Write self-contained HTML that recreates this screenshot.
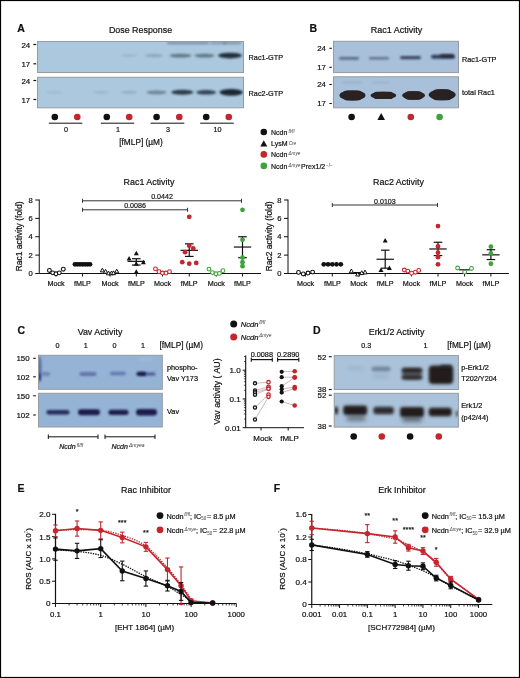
<!DOCTYPE html><html><head><meta charset="utf-8"><title>Figure</title><style>html,body{margin:0;padding:0;background:#fff;}body{width:520px;height:678px;overflow:hidden;font-family:"Liberation Sans", sans-serif;}svg{display:block;will-change:transform;} text{stroke:#111;stroke-width:0.2px;} tspan[font-size]{stroke-width:0;fill:#3a3a3a;}</style></head><body><svg width="520" height="678" viewBox="0 0 520 678" font-family='"Liberation Sans", sans-serif'>
<defs><filter id="b05" x="-50%" y="-100%" width="200%" height="300%"><feGaussianBlur stdDeviation="0.7"/></filter><filter id="b1" x="-50%" y="-100%" width="200%" height="300%"><feGaussianBlur stdDeviation="1.2"/></filter><filter id="b15" x="-50%" y="-100%" width="200%" height="300%"><feGaussianBlur stdDeviation="1.4"/></filter><filter id="b2" x="-50%" y="-100%" width="200%" height="300%"><feGaussianBlur stdDeviation="2"/></filter><filter id="b3" x="-50%" y="-100%" width="200%" height="300%"><feGaussianBlur stdDeviation="3"/></filter></defs>
<rect x="0" y="0" width="520" height="678" fill="#fff"/>
<text x="17.20" y="32.16" font-size="10.5" text-anchor="start" font-weight="bold" font-style="normal" fill="#111" >A</text>
<text x="140.50" y="32.69" font-size="8.9" text-anchor="middle" font-weight="normal" font-style="normal" fill="#111" >Dose Response</text>
<rect x="37.5" y="41.5" width="206.0" height="31.0" fill="#abc8de" stroke="#959b9f" stroke-width="1"/>
<rect x="37.5" y="77.3" width="206.0" height="30.5" fill="#abc8de" stroke="#959b9f" stroke-width="1"/>
<text x="30.20" y="47.63" font-size="7.9" text-anchor="end" font-weight="normal" font-style="normal" fill="#111" >24</text>
<line x1="33.40" y1="44.50" x2="36.20" y2="44.50" stroke="#111" stroke-width="1.2" />
<text x="30.20" y="66.93" font-size="7.9" text-anchor="end" font-weight="normal" font-style="normal" fill="#111" >17</text>
<line x1="33.40" y1="63.80" x2="36.20" y2="63.80" stroke="#111" stroke-width="1.2" />
<text x="30.20" y="83.63" font-size="7.9" text-anchor="end" font-weight="normal" font-style="normal" fill="#111" >24</text>
<line x1="33.40" y1="80.50" x2="36.20" y2="80.50" stroke="#111" stroke-width="1.2" />
<text x="30.20" y="102.63" font-size="7.9" text-anchor="end" font-weight="normal" font-style="normal" fill="#111" >17</text>
<line x1="33.40" y1="99.50" x2="36.20" y2="99.50" stroke="#111" stroke-width="1.2" />
<rect x="167.00" y="41.70" width="42.00" height="2.60" rx="1.30" ry="1.30" fill="#2a3a55" opacity="0.38" filter="url(#b1)" clip-path="url(#blotclip)"/>
<rect x="210.00" y="41.80" width="16.00" height="2.40" rx="1.20" ry="1.20" fill="#2a3a55" opacity="0.3" filter="url(#b1)" clip-path="url(#blotclip)"/>
<rect x="223.00" y="41.70" width="18.00" height="2.60" rx="1.30" ry="1.30" fill="#2a3a55" opacity="0.35" filter="url(#b1)" clip-path="url(#blotclip)"/>
<ellipse cx="129.00" cy="55.60" rx="8.00" ry="1.40" fill="#1b2530" opacity="0.1" filter="url(#b1)" clip-path="url(#blotclip)"/>
<ellipse cx="154.00" cy="55.60" rx="9.00" ry="1.50" fill="#1b2530" opacity="0.22" filter="url(#b1)" clip-path="url(#blotclip)"/>
<ellipse cx="180.50" cy="55.60" rx="11.00" ry="1.90" fill="#1b2530" opacity="0.5" filter="url(#b1)" clip-path="url(#blotclip)"/>
<ellipse cx="204.50" cy="55.60" rx="10.00" ry="1.90" fill="#1b2530" opacity="0.5" filter="url(#b1)" clip-path="url(#blotclip)"/>
<ellipse cx="230.00" cy="55.60" rx="12.00" ry="2.80" fill="#1b2530" opacity="0.95" filter="url(#b1)" clip-path="url(#blotclip)"/>
<ellipse cx="54.00" cy="92.30" rx="8.00" ry="1.40" fill="#1b2530" opacity="0.07" filter="url(#b1)" clip-path="url(#blotclip)"/>
<ellipse cx="101.00" cy="92.30" rx="8.00" ry="1.40" fill="#1b2530" opacity="0.1" filter="url(#b1)" clip-path="url(#blotclip)"/>
<ellipse cx="129.00" cy="92.30" rx="8.00" ry="1.50" fill="#1b2530" opacity="0.16" filter="url(#b1)" clip-path="url(#blotclip)"/>
<ellipse cx="156.50" cy="92.30" rx="10.00" ry="1.90" fill="#1b2530" opacity="0.42" filter="url(#b1)" clip-path="url(#blotclip)"/>
<ellipse cx="182.30" cy="92.30" rx="11.00" ry="2.50" fill="#1b2530" opacity="0.88" filter="url(#b1)" clip-path="url(#blotclip)"/>
<ellipse cx="206.20" cy="92.30" rx="10.00" ry="2.30" fill="#1b2530" opacity="0.82" filter="url(#b1)" clip-path="url(#blotclip)"/>
<ellipse cx="231.20" cy="92.30" rx="11.75" ry="3.40" fill="#1b2530" opacity="1" filter="url(#b1)" clip-path="url(#blotclip)"/>
<text x="248.60" y="60.31" font-size="7.3" text-anchor="start" font-weight="normal" font-style="normal" fill="#111" >Rac1-GTP</text>
<text x="248.60" y="95.61" font-size="7.3" text-anchor="start" font-weight="normal" font-style="normal" fill="#111" >Rac2-GTP</text>
<circle cx="54.80" cy="117.00" r="3.3" fill="#111" stroke="none" stroke-width="0"/>
<circle cx="77.30" cy="117.00" r="3.3" fill="#c4262e" stroke="none" stroke-width="0"/>
<line x1="48.80" y1="123.20" x2="82.30" y2="123.20" stroke="#111" stroke-width="1" />
<text x="66.05" y="131.88" font-size="7.2" text-anchor="middle" font-weight="normal" font-style="normal" fill="#111" >0</text>
<circle cx="106.80" cy="117.00" r="3.3" fill="#111" stroke="none" stroke-width="0"/>
<circle cx="129.20" cy="117.00" r="3.3" fill="#c4262e" stroke="none" stroke-width="0"/>
<line x1="100.80" y1="123.20" x2="134.20" y2="123.20" stroke="#111" stroke-width="1" />
<text x="118.00" y="131.88" font-size="7.2" text-anchor="middle" font-weight="normal" font-style="normal" fill="#111" >1</text>
<circle cx="156.60" cy="117.00" r="3.3" fill="#111" stroke="none" stroke-width="0"/>
<circle cx="179.30" cy="117.00" r="3.3" fill="#c4262e" stroke="none" stroke-width="0"/>
<line x1="150.60" y1="123.20" x2="184.30" y2="123.20" stroke="#111" stroke-width="1" />
<text x="167.95" y="131.88" font-size="7.2" text-anchor="middle" font-weight="normal" font-style="normal" fill="#111" >3</text>
<circle cx="206.20" cy="117.00" r="3.3" fill="#111" stroke="none" stroke-width="0"/>
<circle cx="228.80" cy="117.00" r="3.3" fill="#c4262e" stroke="none" stroke-width="0"/>
<line x1="200.20" y1="123.20" x2="233.80" y2="123.20" stroke="#111" stroke-width="1" />
<text x="217.50" y="131.88" font-size="7.2" text-anchor="middle" font-weight="normal" font-style="normal" fill="#111" >10</text>
<text x="141.00" y="145.17" font-size="8.3" text-anchor="middle" font-weight="normal" font-style="normal" fill="#111" >[fMLP] (&#181;M)</text>
<text x="309.50" y="32.16" font-size="10.5" text-anchor="start" font-weight="bold" font-style="normal" fill="#111" >B</text>
<text x="396.60" y="33.12" font-size="9.0" text-anchor="middle" font-weight="normal" font-style="normal" fill="#111" >Rac1 Activity</text>
<rect x="333.5" y="41.3" width="125.0" height="31.299999999999997" fill="#a8c0da" stroke="#959b9f" stroke-width="1"/>
<rect x="333.5" y="76.8" width="125.0" height="31.0" fill="#a8c0da" stroke="#959b9f" stroke-width="1"/>
<text x="326.00" y="51.13" font-size="7.9" text-anchor="end" font-weight="normal" font-style="normal" fill="#111" >24</text>
<line x1="329.40" y1="48.30" x2="331.80" y2="48.30" stroke="#111" stroke-width="1.1" />
<text x="326.00" y="70.13" font-size="7.9" text-anchor="end" font-weight="normal" font-style="normal" fill="#111" >17</text>
<line x1="329.40" y1="67.30" x2="331.80" y2="67.30" stroke="#111" stroke-width="1.1" />
<text x="326.00" y="87.33" font-size="7.9" text-anchor="end" font-weight="normal" font-style="normal" fill="#111" >24</text>
<line x1="329.40" y1="84.50" x2="331.80" y2="84.50" stroke="#111" stroke-width="1.1" />
<text x="326.00" y="106.33" font-size="7.9" text-anchor="end" font-weight="normal" font-style="normal" fill="#111" >17</text>
<line x1="329.40" y1="103.50" x2="331.80" y2="103.50" stroke="#111" stroke-width="1.1" />
<rect x="339.00" y="56.90" width="20.00" height="2.80" rx="1.40" ry="1.40" fill="#2a3350" opacity="0.6" filter="url(#b1)" clip-path="url(#blotclip)"/>
<rect x="369.00" y="56.90" width="20.00" height="2.60" rx="1.30" ry="1.30" fill="#2a3350" opacity="0.55" filter="url(#b1)" clip-path="url(#blotclip)"/>
<rect x="400.00" y="55.90" width="21.00" height="3.40" rx="1.70" ry="1.70" fill="#2a3350" opacity="0.85" filter="url(#b1)" clip-path="url(#blotclip)"/>
<rect x="431.00" y="54.80" width="24.00" height="4.00" rx="2.00" ry="2.00" fill="#2a3350" opacity="0.9" filter="url(#b1)" clip-path="url(#blotclip)"/>
<rect x="440.00" y="54.05" width="14.00" height="3.50" rx="1.75" ry="1.75" fill="#1e1f2e" opacity="0.7" filter="url(#b1)" clip-path="url(#blotclip)"/>
<rect x="342.10" y="90.40" width="20.80" height="10.00" rx="5.00" ry="5.00" fill="#2a2420" opacity="1" filter="url(#b05)" clip-path="url(#blotclip)"/>
<ellipse cx="352.50" cy="95.40" rx="13.00" ry="5.00" fill="#2a2420" opacity="1" filter="url(#b05)" clip-path="url(#blotclip)"/>
<rect x="373.20" y="91.80" width="20.40" height="7.20" rx="3.60" ry="3.60" fill="#2a2420" opacity="1" filter="url(#b05)" clip-path="url(#blotclip)"/>
<ellipse cx="383.40" cy="95.40" rx="12.75" ry="3.60" fill="#2a2420" opacity="1" filter="url(#b05)" clip-path="url(#blotclip)"/>
<rect x="404.40" y="91.30" width="18.40" height="8.40" rx="4.20" ry="4.20" fill="#2a2420" opacity="1" filter="url(#b05)" clip-path="url(#blotclip)"/>
<ellipse cx="413.60" cy="95.50" rx="11.50" ry="4.20" fill="#2a2420" opacity="1" filter="url(#b05)" clip-path="url(#blotclip)"/>
<rect x="431.40" y="89.30" width="21.60" height="11.00" rx="5.50" ry="5.50" fill="#2a2420" opacity="1" filter="url(#b05)" clip-path="url(#blotclip)"/>
<ellipse cx="442.20" cy="94.80" rx="13.50" ry="5.50" fill="#2a2420" opacity="1" filter="url(#b05)" clip-path="url(#blotclip)"/>
<rect x="342.00" y="81.50" width="20.00" height="2.00" rx="1.00" ry="1.00" fill="#445" opacity="0.12" filter="url(#b1)" clip-path="url(#blotclip)"/>
<rect x="372.00" y="81.50" width="18.00" height="2.00" rx="1.00" ry="1.00" fill="#445" opacity="0.1" filter="url(#b1)" clip-path="url(#blotclip)"/>
<text x="462.00" y="61.61" font-size="7.3" text-anchor="start" font-weight="normal" font-style="normal" fill="#111" >Rac1-GTP</text>
<text x="462.00" y="95.41" font-size="7.3" text-anchor="start" font-weight="normal" font-style="normal" fill="#111" >total Rac1</text>
<circle cx="351.60" cy="117.00" r="3.3" fill="#111" stroke="none" stroke-width="0"/>
<polygon points="381.20,113.10 377.40,119.94 385.00,119.94" fill="#111" stroke="none" stroke-width="0"/>
<circle cx="410.80" cy="117.00" r="3.3" fill="#c4262e" stroke="none" stroke-width="0"/>
<circle cx="439.60" cy="117.00" r="3.3" fill="#3fa33a" stroke="none" stroke-width="0"/>
<circle cx="263.80" cy="132.00" r="3.3" fill="#111" stroke="none" stroke-width="0"/>
<text x="271.00" y="134.71" font-size="7.0" text-anchor="start" font-weight="normal" font-style="normal" fill="#111" ><tspan>Ncdn</tspan><tspan font-size="4.6" font-style="italic" dx="1.2" dy="-1.9">fl/fl</tspan></text>
<polygon points="263.80,140.22 260.30,146.52 267.30,146.52" fill="#111" stroke="none" stroke-width="0"/>
<text x="271.00" y="146.41" font-size="7.0" text-anchor="start" font-weight="normal" font-style="normal" fill="#111" ><tspan>LysM</tspan><tspan font-size="4.6" font-style="italic" dx="1.2" dy="-1.9">Cre</tspan></text>
<circle cx="263.80" cy="154.40" r="3.3" fill="#c4262e" stroke="none" stroke-width="0"/>
<text x="271.00" y="157.11" font-size="7.0" text-anchor="start" font-weight="normal" font-style="normal" fill="#111" ><tspan>Ncdn</tspan><tspan font-size="4.6" font-style="italic" dx="1.2" dy="-1.9">&#916;mye</tspan></text>
<circle cx="263.80" cy="165.90" r="3.3" fill="#3fa33a" stroke="none" stroke-width="0"/>
<text x="271.00" y="168.61" font-size="7.0" text-anchor="start" font-weight="normal" font-style="normal" fill="#111" ><tspan>Ncdn</tspan><tspan font-size="4.6" font-style="italic" dx="1.2" dy="-1.9">&#916;mye</tspan><tspan dy="1.9" dx="0.8">Prex1/2</tspan><tspan font-size="4.6" dx="0.8" dy="-1.9">&#8722;/&#8722;</tspan></text>
<text x="149.00" y="185.19" font-size="8.9" text-anchor="middle" font-weight="normal" font-style="normal" fill="#111" >Rac1 Activity</text>
<line x1="39.25" y1="199.50" x2="39.25" y2="273.50" stroke="#111" stroke-width="1" />
<line x1="35.25" y1="273.50" x2="39.25" y2="273.50" stroke="#111" stroke-width="1" />
<text x="32.65" y="276.22" font-size="7.6" text-anchor="end" font-weight="normal" font-style="normal" fill="#111" >0</text>
<line x1="35.25" y1="255.12" x2="39.25" y2="255.12" stroke="#111" stroke-width="1" />
<text x="32.65" y="257.85" font-size="7.6" text-anchor="end" font-weight="normal" font-style="normal" fill="#111" >2</text>
<line x1="35.25" y1="236.75" x2="39.25" y2="236.75" stroke="#111" stroke-width="1" />
<text x="32.65" y="239.47" font-size="7.6" text-anchor="end" font-weight="normal" font-style="normal" fill="#111" >4</text>
<line x1="35.25" y1="218.38" x2="39.25" y2="218.38" stroke="#111" stroke-width="1" />
<text x="32.65" y="221.10" font-size="7.6" text-anchor="end" font-weight="normal" font-style="normal" fill="#111" >6</text>
<line x1="35.25" y1="200.00" x2="39.25" y2="200.00" stroke="#111" stroke-width="1" />
<text x="32.65" y="202.72" font-size="7.6" text-anchor="end" font-weight="normal" font-style="normal" fill="#111" >8</text>
<line x1="39.25" y1="273.50" x2="261.00" y2="273.50" stroke="#111" stroke-width="1" />
<line x1="56.00" y1="273.50" x2="56.00" y2="276.50" stroke="#111" stroke-width="1" />
<text x="56.00" y="285.88" font-size="7.2" text-anchor="middle" font-weight="normal" font-style="normal" fill="#111" >Mock</text>
<line x1="82.50" y1="273.50" x2="82.50" y2="276.50" stroke="#111" stroke-width="1" />
<text x="82.50" y="285.88" font-size="7.2" text-anchor="middle" font-weight="normal" font-style="normal" fill="#111" >fMLP</text>
<line x1="110.00" y1="273.50" x2="110.00" y2="276.50" stroke="#111" stroke-width="1" />
<text x="110.00" y="285.88" font-size="7.2" text-anchor="middle" font-weight="normal" font-style="normal" fill="#111" >Mock</text>
<line x1="136.30" y1="273.50" x2="136.30" y2="276.50" stroke="#111" stroke-width="1" />
<text x="136.30" y="285.88" font-size="7.2" text-anchor="middle" font-weight="normal" font-style="normal" fill="#111" >fMLP</text>
<line x1="162.50" y1="273.50" x2="162.50" y2="276.50" stroke="#111" stroke-width="1" />
<text x="162.50" y="285.88" font-size="7.2" text-anchor="middle" font-weight="normal" font-style="normal" fill="#111" >Mock</text>
<line x1="189.25" y1="273.50" x2="189.25" y2="276.50" stroke="#111" stroke-width="1" />
<text x="189.25" y="285.88" font-size="7.2" text-anchor="middle" font-weight="normal" font-style="normal" fill="#111" >fMLP</text>
<line x1="216.25" y1="273.50" x2="216.25" y2="276.50" stroke="#111" stroke-width="1" />
<text x="216.25" y="285.88" font-size="7.2" text-anchor="middle" font-weight="normal" font-style="normal" fill="#111" >Mock</text>
<line x1="242.50" y1="273.50" x2="242.50" y2="276.50" stroke="#111" stroke-width="1" />
<text x="242.50" y="285.88" font-size="7.2" text-anchor="middle" font-weight="normal" font-style="normal" fill="#111" >fMLP</text>
<text transform="translate(18.7,236.4) rotate(-90)" font-size="8.5" text-anchor="middle" y="3.04" fill="#111">Rac1 activity (fold)</text>
<line x1="82.50" y1="200.80" x2="241.50" y2="200.80" stroke="#333" stroke-width="1" />
<line x1="82.50" y1="198.80" x2="82.50" y2="202.80" stroke="#333" stroke-width="1" />
<line x1="241.50" y1="198.80" x2="241.50" y2="202.80" stroke="#333" stroke-width="1" />
<text x="162.00" y="199.34" font-size="7.1" text-anchor="middle" font-weight="normal" font-style="normal" fill="#222" >0.0442</text>
<line x1="82.50" y1="209.80" x2="187.50" y2="209.80" stroke="#333" stroke-width="1" />
<line x1="82.50" y1="207.80" x2="82.50" y2="211.80" stroke="#333" stroke-width="1" />
<line x1="187.50" y1="207.80" x2="187.50" y2="211.80" stroke="#333" stroke-width="1" />
<text x="135.00" y="208.34" font-size="7.1" text-anchor="middle" font-weight="normal" font-style="normal" fill="#222" >0.0086</text>
<circle cx="49.40" cy="270.47" r="1.9" fill="#fff" stroke="#111" stroke-width="1.1"/>
<circle cx="52.70" cy="272.86" r="1.9" fill="#fff" stroke="#111" stroke-width="1.1"/>
<circle cx="56.00" cy="273.78" r="1.9" fill="#fff" stroke="#111" stroke-width="1.1"/>
<circle cx="59.30" cy="272.86" r="1.9" fill="#fff" stroke="#111" stroke-width="1.1"/>
<circle cx="63.30" cy="269.18" r="1.9" fill="#fff" stroke="#111" stroke-width="1.1"/>
<circle cx="75.00" cy="264.31" r="2.4" fill="#111" stroke="none" stroke-width="0"/>
<circle cx="77.50" cy="264.31" r="2.4" fill="#111" stroke="none" stroke-width="0"/>
<circle cx="80.00" cy="264.31" r="2.4" fill="#111" stroke="none" stroke-width="0"/>
<circle cx="82.50" cy="264.31" r="2.4" fill="#111" stroke="none" stroke-width="0"/>
<circle cx="85.00" cy="264.31" r="2.4" fill="#111" stroke="none" stroke-width="0"/>
<circle cx="87.50" cy="264.31" r="2.4" fill="#111" stroke="none" stroke-width="0"/>
<circle cx="90.00" cy="264.31" r="2.4" fill="#111" stroke="none" stroke-width="0"/>
<polygon points="102.40,268.11 100.30,271.89 104.50,271.89" fill="#fff" stroke="#111" stroke-width="1"/>
<polygon points="105.60,269.39 103.50,273.17 107.70,273.17" fill="#fff" stroke="#111" stroke-width="1"/>
<polygon points="108.50,271.05 106.40,274.83 110.60,274.83" fill="#fff" stroke="#111" stroke-width="1"/>
<polygon points="111.50,271.05 109.40,274.83 113.60,274.83" fill="#fff" stroke="#111" stroke-width="1"/>
<polygon points="113.50,270.86 111.40,274.64 115.60,274.64" fill="#fff" stroke="#111" stroke-width="1"/>
<polygon points="116.70,269.12 114.60,272.90 118.80,272.90" fill="#fff" stroke="#111" stroke-width="1"/>
<line x1="127.60" y1="261.37" x2="145.00" y2="261.37" stroke="#111" stroke-width="1.2" />
<line x1="136.30" y1="265.05" x2="136.30" y2="258.71" stroke="#111" stroke-width="1.2" />
<line x1="132.00" y1="265.05" x2="140.60" y2="265.05" stroke="#111" stroke-width="1.2" />
<line x1="132.00" y1="258.71" x2="140.60" y2="258.71" stroke="#111" stroke-width="1.2" />
<polygon points="136.30,250.68 133.80,255.18 138.80,255.18" fill="#111" stroke="none" stroke-width="0"/>
<polygon points="129.10,256.01 126.60,260.51 131.60,260.51" fill="#111" stroke="none" stroke-width="0"/>
<polygon points="143.40,259.68 140.90,264.18 145.90,264.18" fill="#111" stroke="none" stroke-width="0"/>
<polygon points="136.30,261.25 133.80,265.75 138.80,265.75" fill="#111" stroke="none" stroke-width="0"/>
<polygon points="136.30,269.24 133.80,273.74 138.80,273.74" fill="#111" stroke="none" stroke-width="0"/>
<circle cx="155.50" cy="268.91" r="1.9" fill="#fff" stroke="#c4262e" stroke-width="1.1"/>
<circle cx="159.00" cy="271.66" r="1.9" fill="#fff" stroke="#c4262e" stroke-width="1.1"/>
<circle cx="162.50" cy="273.04" r="1.9" fill="#fff" stroke="#c4262e" stroke-width="1.1"/>
<circle cx="166.00" cy="273.04" r="1.9" fill="#fff" stroke="#c4262e" stroke-width="1.1"/>
<circle cx="169.50" cy="271.66" r="1.9" fill="#fff" stroke="#c4262e" stroke-width="1.1"/>
<line x1="180.55" y1="250.35" x2="197.95" y2="250.35" stroke="#111" stroke-width="1.2" />
<line x1="189.25" y1="256.41" x2="189.25" y2="243.82" stroke="#111" stroke-width="1.2" />
<line x1="184.95" y1="256.41" x2="193.55" y2="256.41" stroke="#111" stroke-width="1.2" />
<line x1="184.95" y1="243.82" x2="193.55" y2="243.82" stroke="#111" stroke-width="1.2" />
<circle cx="189.25" cy="216.81" r="2.4" fill="#c4262e" stroke="none" stroke-width="0"/>
<circle cx="189.25" cy="245.66" r="2.4" fill="#c4262e" stroke="none" stroke-width="0"/>
<circle cx="193.25" cy="248.42" r="2.4" fill="#c4262e" stroke="none" stroke-width="0"/>
<circle cx="185.05" cy="252.19" r="2.4" fill="#c4262e" stroke="none" stroke-width="0"/>
<circle cx="182.25" cy="262.20" r="2.4" fill="#c4262e" stroke="none" stroke-width="0"/>
<circle cx="189.25" cy="263.67" r="2.4" fill="#c4262e" stroke="none" stroke-width="0"/>
<circle cx="196.25" cy="262.93" r="2.4" fill="#c4262e" stroke="none" stroke-width="0"/>
<circle cx="208.95" cy="269.09" r="1.9" fill="#fff" stroke="#3fa33a" stroke-width="1.1"/>
<circle cx="212.45" cy="272.58" r="1.9" fill="#fff" stroke="#3fa33a" stroke-width="1.1"/>
<circle cx="215.95" cy="273.78" r="1.9" fill="#fff" stroke="#3fa33a" stroke-width="1.1"/>
<circle cx="219.45" cy="273.41" r="1.9" fill="#fff" stroke="#3fa33a" stroke-width="1.1"/>
<circle cx="222.95" cy="270.65" r="1.9" fill="#fff" stroke="#3fa33a" stroke-width="1.1"/>
<line x1="233.80" y1="247.04" x2="251.20" y2="247.04" stroke="#111" stroke-width="1.2" />
<line x1="242.50" y1="257.70" x2="242.50" y2="236.75" stroke="#111" stroke-width="1.2" />
<line x1="238.20" y1="257.70" x2="246.80" y2="257.70" stroke="#111" stroke-width="1.2" />
<line x1="238.20" y1="236.75" x2="246.80" y2="236.75" stroke="#111" stroke-width="1.2" />
<circle cx="242.50" cy="209.83" r="2.4" fill="#3fa33a" stroke="none" stroke-width="0"/>
<circle cx="242.50" cy="239.87" r="2.4" fill="#3fa33a" stroke="none" stroke-width="0"/>
<circle cx="242.50" cy="257.70" r="2.4" fill="#3fa33a" stroke="none" stroke-width="0"/>
<circle cx="242.50" cy="262.20" r="2.4" fill="#3fa33a" stroke="none" stroke-width="0"/>
<circle cx="242.50" cy="266.15" r="2.4" fill="#3fa33a" stroke="none" stroke-width="0"/>
<text x="398.50" y="185.19" font-size="8.9" text-anchor="middle" font-weight="normal" font-style="normal" fill="#111" >Rac2 Activity</text>
<line x1="288.00" y1="199.50" x2="288.00" y2="273.50" stroke="#111" stroke-width="1" />
<line x1="284.00" y1="273.50" x2="288.00" y2="273.50" stroke="#111" stroke-width="1" />
<text x="281.40" y="276.22" font-size="7.6" text-anchor="end" font-weight="normal" font-style="normal" fill="#111" >0</text>
<line x1="284.00" y1="255.12" x2="288.00" y2="255.12" stroke="#111" stroke-width="1" />
<text x="281.40" y="257.85" font-size="7.6" text-anchor="end" font-weight="normal" font-style="normal" fill="#111" >2</text>
<line x1="284.00" y1="236.75" x2="288.00" y2="236.75" stroke="#111" stroke-width="1" />
<text x="281.40" y="239.47" font-size="7.6" text-anchor="end" font-weight="normal" font-style="normal" fill="#111" >4</text>
<line x1="284.00" y1="218.38" x2="288.00" y2="218.38" stroke="#111" stroke-width="1" />
<text x="281.40" y="221.10" font-size="7.6" text-anchor="end" font-weight="normal" font-style="normal" fill="#111" >6</text>
<line x1="284.00" y1="200.00" x2="288.00" y2="200.00" stroke="#111" stroke-width="1" />
<text x="281.40" y="202.72" font-size="7.6" text-anchor="end" font-weight="normal" font-style="normal" fill="#111" >8</text>
<line x1="288.00" y1="273.50" x2="508.90" y2="273.50" stroke="#111" stroke-width="1" />
<line x1="305.50" y1="273.50" x2="305.50" y2="276.50" stroke="#111" stroke-width="1" />
<text x="305.50" y="285.88" font-size="7.2" text-anchor="middle" font-weight="normal" font-style="normal" fill="#111" >Mock</text>
<line x1="332.30" y1="273.50" x2="332.30" y2="276.50" stroke="#111" stroke-width="1" />
<text x="332.30" y="285.88" font-size="7.2" text-anchor="middle" font-weight="normal" font-style="normal" fill="#111" >fMLP</text>
<line x1="358.75" y1="273.50" x2="358.75" y2="276.50" stroke="#111" stroke-width="1" />
<text x="358.75" y="285.88" font-size="7.2" text-anchor="middle" font-weight="normal" font-style="normal" fill="#111" >Mock</text>
<line x1="385.20" y1="273.50" x2="385.20" y2="276.50" stroke="#111" stroke-width="1" />
<text x="385.20" y="285.88" font-size="7.2" text-anchor="middle" font-weight="normal" font-style="normal" fill="#111" >fMLP</text>
<line x1="411.40" y1="273.50" x2="411.40" y2="276.50" stroke="#111" stroke-width="1" />
<text x="411.40" y="285.88" font-size="7.2" text-anchor="middle" font-weight="normal" font-style="normal" fill="#111" >Mock</text>
<line x1="438.00" y1="273.50" x2="438.00" y2="276.50" stroke="#111" stroke-width="1" />
<text x="438.00" y="285.88" font-size="7.2" text-anchor="middle" font-weight="normal" font-style="normal" fill="#111" >fMLP</text>
<line x1="464.60" y1="273.50" x2="464.60" y2="276.50" stroke="#111" stroke-width="1" />
<text x="464.60" y="285.88" font-size="7.2" text-anchor="middle" font-weight="normal" font-style="normal" fill="#111" >Mock</text>
<line x1="490.90" y1="273.50" x2="490.90" y2="276.50" stroke="#111" stroke-width="1" />
<text x="490.90" y="285.88" font-size="7.2" text-anchor="middle" font-weight="normal" font-style="normal" fill="#111" >fMLP</text>
<text transform="translate(268.8,236.4) rotate(-90)" font-size="8.5" text-anchor="middle" y="3.04" fill="#111">Rac2 activity (fold)</text>
<line x1="332.30" y1="205.00" x2="437.50" y2="205.00" stroke="#333" stroke-width="1" />
<line x1="332.30" y1="203.00" x2="332.30" y2="207.00" stroke="#333" stroke-width="1" />
<line x1="437.50" y1="203.00" x2="437.50" y2="207.00" stroke="#333" stroke-width="1" />
<text x="384.90" y="203.54" font-size="7.1" text-anchor="middle" font-weight="normal" font-style="normal" fill="#222" >0.0103</text>
<circle cx="298.50" cy="272.40" r="1.9" fill="#fff" stroke="#111" stroke-width="1.1"/>
<circle cx="303.30" cy="273.96" r="1.9" fill="#fff" stroke="#111" stroke-width="1.1"/>
<circle cx="308.00" cy="273.04" r="1.9" fill="#fff" stroke="#111" stroke-width="1.1"/>
<circle cx="312.60" cy="272.12" r="1.9" fill="#fff" stroke="#111" stroke-width="1.1"/>
<circle cx="323.80" cy="264.31" r="2.4" fill="#111" stroke="none" stroke-width="0"/>
<circle cx="328.05" cy="264.31" r="2.4" fill="#111" stroke="none" stroke-width="0"/>
<circle cx="332.30" cy="264.31" r="2.4" fill="#111" stroke="none" stroke-width="0"/>
<circle cx="336.55" cy="264.31" r="2.4" fill="#111" stroke="none" stroke-width="0"/>
<circle cx="340.80" cy="264.31" r="2.4" fill="#111" stroke="none" stroke-width="0"/>
<line x1="353.25" y1="272.58" x2="364.25" y2="272.58" stroke="#111" stroke-width="1.2" />
<polygon points="351.35,269.03 349.25,272.81 353.45,272.81" fill="#fff" stroke="#111" stroke-width="1"/>
<polygon points="357.75,272.15 355.65,275.93 359.85,275.93" fill="#fff" stroke="#111" stroke-width="1"/>
<polygon points="365.05,270.13 362.95,273.91 367.15,273.91" fill="#fff" stroke="#111" stroke-width="1"/>
<polygon points="361.75,270.77 359.65,274.55 363.85,274.55" fill="#fff" stroke="#111" stroke-width="1"/>
<line x1="376.50" y1="259.26" x2="393.90" y2="259.26" stroke="#111" stroke-width="1.2" />
<line x1="385.20" y1="268.17" x2="385.20" y2="250.16" stroke="#111" stroke-width="1.2" />
<line x1="380.90" y1="268.17" x2="389.50" y2="268.17" stroke="#111" stroke-width="1.2" />
<line x1="380.90" y1="250.16" x2="389.50" y2="250.16" stroke="#111" stroke-width="1.2" />
<polygon points="385.20,237.91 382.70,242.41 387.70,242.41" fill="#111" stroke="none" stroke-width="0"/>
<polygon points="381.00,267.58 378.50,272.08 383.50,272.08" fill="#111" stroke="none" stroke-width="0"/>
<polygon points="389.40,265.47 386.90,269.97 391.90,269.97" fill="#111" stroke="none" stroke-width="0"/>
<circle cx="404.30" cy="270.01" r="1.9" fill="#fff" stroke="#c4262e" stroke-width="1.1"/>
<circle cx="407.80" cy="271.11" r="1.9" fill="#fff" stroke="#c4262e" stroke-width="1.1"/>
<circle cx="411.60" cy="273.13" r="1.9" fill="#fff" stroke="#c4262e" stroke-width="1.1"/>
<circle cx="415.40" cy="272.21" r="1.9" fill="#fff" stroke="#c4262e" stroke-width="1.1"/>
<circle cx="418.70" cy="270.38" r="1.9" fill="#fff" stroke="#c4262e" stroke-width="1.1"/>
<line x1="429.30" y1="248.97" x2="446.70" y2="248.97" stroke="#111" stroke-width="1.2" />
<line x1="438.00" y1="255.58" x2="438.00" y2="242.26" stroke="#111" stroke-width="1.2" />
<line x1="433.70" y1="255.58" x2="442.30" y2="255.58" stroke="#111" stroke-width="1.2" />
<line x1="433.70" y1="242.26" x2="442.30" y2="242.26" stroke="#111" stroke-width="1.2" />
<circle cx="438.00" cy="226.09" r="2.4" fill="#c4262e" stroke="none" stroke-width="0"/>
<circle cx="438.00" cy="246.40" r="2.4" fill="#c4262e" stroke="none" stroke-width="0"/>
<circle cx="438.00" cy="252.64" r="2.4" fill="#c4262e" stroke="none" stroke-width="0"/>
<circle cx="438.00" cy="257.15" r="2.4" fill="#c4262e" stroke="none" stroke-width="0"/>
<circle cx="438.00" cy="264.31" r="2.4" fill="#c4262e" stroke="none" stroke-width="0"/>
<line x1="459.10" y1="269.82" x2="470.10" y2="269.82" stroke="#111" stroke-width="1.2" />
<circle cx="457.60" cy="267.99" r="1.9" fill="#fff" stroke="#3fa33a" stroke-width="1.1"/>
<circle cx="464.70" cy="272.12" r="1.9" fill="#fff" stroke="#3fa33a" stroke-width="1.1"/>
<circle cx="471.50" cy="268.45" r="1.9" fill="#fff" stroke="#3fa33a" stroke-width="1.1"/>
<line x1="482.20" y1="254.85" x2="499.60" y2="254.85" stroke="#111" stroke-width="1.2" />
<line x1="490.90" y1="259.54" x2="490.90" y2="249.70" stroke="#111" stroke-width="1.2" />
<line x1="486.60" y1="259.54" x2="495.20" y2="259.54" stroke="#111" stroke-width="1.2" />
<line x1="486.60" y1="249.70" x2="495.20" y2="249.70" stroke="#111" stroke-width="1.2" />
<circle cx="490.90" cy="246.67" r="2.4" fill="#3fa33a" stroke="none" stroke-width="0"/>
<circle cx="490.90" cy="253.38" r="2.4" fill="#3fa33a" stroke="none" stroke-width="0"/>
<circle cx="490.90" cy="263.76" r="2.4" fill="#3fa33a" stroke="none" stroke-width="0"/>
<text x="17.50" y="333.76" font-size="10.5" text-anchor="start" font-weight="bold" font-style="normal" fill="#111" >C</text>
<text x="100.00" y="334.69" font-size="8.9" text-anchor="middle" font-weight="normal" font-style="normal" fill="#111" >Vav Activity</text>
<text x="57.50" y="348.08" font-size="7.2" text-anchor="middle" font-weight="normal" font-style="normal" fill="#111" >0</text>
<text x="85.80" y="348.08" font-size="7.2" text-anchor="middle" font-weight="normal" font-style="normal" fill="#111" >1</text>
<text x="114.50" y="348.08" font-size="7.2" text-anchor="middle" font-weight="normal" font-style="normal" fill="#111" >0</text>
<text x="143.00" y="348.08" font-size="7.2" text-anchor="middle" font-weight="normal" font-style="normal" fill="#111" >1</text>
<text x="159.50" y="348.47" font-size="8.3" text-anchor="start" font-weight="normal" font-style="normal" fill="#111" >[fMLP] (&#181;M)</text>
<rect x="38.5" y="355.3" width="123.80000000000001" height="34.0" fill="#95b3d4" stroke="#959b9f" stroke-width="1"/>
<rect x="38.5" y="393.3" width="123.80000000000001" height="33.69999999999999" fill="#95b3d4" stroke="#959b9f" stroke-width="1"/>
<text x="29.60" y="361.13" font-size="7.9" text-anchor="end" font-weight="normal" font-style="normal" fill="#111" >150</text>
<line x1="33.20" y1="358.30" x2="35.80" y2="358.30" stroke="#111" stroke-width="1.1" />
<text x="29.60" y="379.63" font-size="7.9" text-anchor="end" font-weight="normal" font-style="normal" fill="#111" >102</text>
<line x1="33.20" y1="376.80" x2="35.80" y2="376.80" stroke="#111" stroke-width="1.1" />
<text x="29.60" y="398.63" font-size="7.9" text-anchor="end" font-weight="normal" font-style="normal" fill="#111" >150</text>
<line x1="33.20" y1="395.80" x2="35.80" y2="395.80" stroke="#111" stroke-width="1.1" />
<text x="29.60" y="417.83" font-size="7.9" text-anchor="end" font-weight="normal" font-style="normal" fill="#111" >102</text>
<line x1="33.20" y1="415.00" x2="35.80" y2="415.00" stroke="#111" stroke-width="1.1" />
<rect x="37.60" y="356.00" width="4.00" height="26.00" rx="13.00" ry="13.00" fill="#2a3690" opacity="0.55" filter="url(#b1)" clip-path="url(#blotclip)"/>
<rect x="37.90" y="373.00" width="3.00" height="8.00" rx="4.00" ry="4.00" fill="#1c2470" opacity="0.7" filter="url(#b1)" clip-path="url(#blotclip)"/>
<rect x="42.00" y="372.00" width="8.00" height="4.00" rx="2.00" ry="2.00" fill="#1c1f78" opacity="0.3" filter="url(#b1)" clip-path="url(#blotclip)"/>
<rect x="79.50" y="372.10" width="17.00" height="3.80" rx="1.90" ry="1.90" fill="#1c1f78" opacity="0.42" filter="url(#b1)" clip-path="url(#blotclip)"/>
<rect x="110.00" y="371.70" width="16.00" height="3.60" rx="1.80" ry="1.80" fill="#1c1f78" opacity="0.38" filter="url(#b1)" clip-path="url(#blotclip)"/>
<rect x="140.50" y="372.40" width="15.00" height="3.20" rx="1.60" ry="1.60" fill="#1c1f78" opacity="0.6" filter="url(#b1)" clip-path="url(#blotclip)"/>
<rect x="136.45" y="371.70" width="9.50" height="4.40" rx="2.20" ry="2.20" fill="#1c1a4c" opacity="1" filter="url(#b1)" clip-path="url(#blotclip)"/>
<rect x="139.00" y="357.50" width="14.00" height="3.00" rx="1.50" ry="1.50" fill="#fff" opacity="0.12" filter="url(#b1)" clip-path="url(#blotclip)"/>
<rect x="46.50" y="410.00" width="23.00" height="4.60" rx="2.30" ry="2.30" fill="#1c1a4c" opacity="0.9" filter="url(#b1)" clip-path="url(#blotclip)"/>
<rect x="78.00" y="409.30" width="22.00" height="6.00" rx="3.00" ry="3.00" fill="#1c1a4c" opacity="1" filter="url(#b1)" clip-path="url(#blotclip)"/>
<rect x="108.50" y="409.70" width="20.00" height="5.20" rx="2.60" ry="2.60" fill="#1c1a4c" opacity="1" filter="url(#b1)" clip-path="url(#blotclip)"/>
<rect x="136.00" y="409.05" width="21.00" height="6.50" rx="3.25" ry="3.25" fill="#1c1a4c" opacity="1" filter="url(#b1)" clip-path="url(#blotclip)"/>
<text x="167.00" y="370.11" font-size="7.3" text-anchor="start" font-weight="normal" font-style="normal" fill="#111" >phospho-</text>
<text x="167.00" y="380.91" font-size="7.3" text-anchor="start" font-weight="normal" font-style="normal" fill="#111" >Vav Y173</text>
<text x="167.00" y="413.91" font-size="7.3" text-anchor="start" font-weight="normal" font-style="normal" fill="#111" >Vav</text>
<line x1="48.30" y1="436.80" x2="98.00" y2="436.80" stroke="#111" stroke-width="1" />
<line x1="48.30" y1="434.50" x2="48.30" y2="439.00" stroke="#111" stroke-width="1" />
<line x1="98.00" y1="434.50" x2="98.00" y2="439.00" stroke="#111" stroke-width="1" />
<text x="71.15" y="449.01" font-size="7" text-anchor="middle" font-weight="normal" font-style="italic" fill="#111" >Ncdn<tspan font-size="5" dx="1" dy="-2.4">fl/fl</tspan></text>
<line x1="105.00" y1="436.80" x2="155.00" y2="436.80" stroke="#111" stroke-width="1" />
<line x1="105.00" y1="434.50" x2="105.00" y2="439.00" stroke="#111" stroke-width="1" />
<line x1="155.00" y1="434.50" x2="155.00" y2="439.00" stroke="#111" stroke-width="1" />
<text x="128.00" y="449.01" font-size="7" text-anchor="middle" font-weight="normal" font-style="italic" fill="#111" >Ncdn<tspan font-size="5" dx="1" dy="-2.4">&#916;myea</tspan></text>
<circle cx="233.70" cy="324.00" r="3.5" fill="#111" stroke="none" stroke-width="0"/>
<circle cx="233.70" cy="336.90" r="3.5" fill="#c4262e" stroke="none" stroke-width="0"/>
<text x="240.80" y="326.52" font-size="7.6" text-anchor="start" font-weight="normal" font-style="italic" fill="#111" >Ncdn<tspan font-size="4.8" dx="0.6" dy="-2.2">fl/fl</tspan></text>
<text x="240.80" y="339.52" font-size="7.6" text-anchor="start" font-weight="normal" font-style="italic" fill="#111" >Ncdn<tspan font-size="4.8" dx="0.6" dy="-2.2">&#916;mye</tspan></text>
<line x1="245.70" y1="355.60" x2="245.70" y2="427.70" stroke="#111" stroke-width="1.1" />
<line x1="245.70" y1="427.70" x2="304.00" y2="427.70" stroke="#111" stroke-width="1" />
<line x1="242.70" y1="370.20" x2="245.70" y2="370.20" stroke="#111" stroke-width="1" />
<text x="240.70" y="373.10" font-size="8.1" text-anchor="end" font-weight="normal" font-style="normal" fill="#111" >1.0</text>
<line x1="242.70" y1="398.95" x2="245.70" y2="398.95" stroke="#111" stroke-width="1" />
<text x="240.70" y="401.85" font-size="8.1" text-anchor="end" font-weight="normal" font-style="normal" fill="#111" >0.1</text>
<line x1="242.70" y1="427.70" x2="245.70" y2="427.70" stroke="#111" stroke-width="1" />
<text x="240.70" y="430.60" font-size="8.1" text-anchor="end" font-weight="normal" font-style="normal" fill="#111" >0.01</text>
<line x1="243.90" y1="419.05" x2="245.70" y2="419.05" stroke="#111" stroke-width="0.7" />
<line x1="243.90" y1="413.98" x2="245.70" y2="413.98" stroke="#111" stroke-width="0.7" />
<line x1="243.90" y1="410.39" x2="245.70" y2="410.39" stroke="#111" stroke-width="0.7" />
<line x1="243.90" y1="407.60" x2="245.70" y2="407.60" stroke="#111" stroke-width="0.7" />
<line x1="243.90" y1="405.33" x2="245.70" y2="405.33" stroke="#111" stroke-width="0.7" />
<line x1="243.90" y1="403.40" x2="245.70" y2="403.40" stroke="#111" stroke-width="0.7" />
<line x1="243.90" y1="401.74" x2="245.70" y2="401.74" stroke="#111" stroke-width="0.7" />
<line x1="243.90" y1="400.27" x2="245.70" y2="400.27" stroke="#111" stroke-width="0.7" />
<line x1="243.90" y1="390.30" x2="245.70" y2="390.30" stroke="#111" stroke-width="0.7" />
<line x1="243.90" y1="385.23" x2="245.70" y2="385.23" stroke="#111" stroke-width="0.7" />
<line x1="243.90" y1="381.64" x2="245.70" y2="381.64" stroke="#111" stroke-width="0.7" />
<line x1="243.90" y1="378.85" x2="245.70" y2="378.85" stroke="#111" stroke-width="0.7" />
<line x1="243.90" y1="376.58" x2="245.70" y2="376.58" stroke="#111" stroke-width="0.7" />
<line x1="243.90" y1="374.65" x2="245.70" y2="374.65" stroke="#111" stroke-width="0.7" />
<line x1="243.90" y1="372.99" x2="245.70" y2="372.99" stroke="#111" stroke-width="0.7" />
<line x1="243.90" y1="371.52" x2="245.70" y2="371.52" stroke="#111" stroke-width="0.7" />
<line x1="243.90" y1="361.55" x2="245.70" y2="361.55" stroke="#111" stroke-width="0.7" />
<line x1="243.90" y1="356.48" x2="245.70" y2="356.48" stroke="#111" stroke-width="0.7" />
<line x1="261.00" y1="427.70" x2="261.00" y2="430.50" stroke="#111" stroke-width="1" />
<text x="262.80" y="441.16" font-size="8" text-anchor="middle" font-weight="normal" font-style="normal" fill="#111" >Mock</text>
<line x1="288.20" y1="427.70" x2="288.20" y2="430.50" stroke="#111" stroke-width="1" />
<text x="289.50" y="441.16" font-size="8" text-anchor="middle" font-weight="normal" font-style="normal" fill="#111" >fMLP</text>
<text transform="translate(216.6,391.6) rotate(-90)" font-size="8.8" text-anchor="middle" y="3.15" fill="#111">Vav activity ( AU)</text>
<line x1="251.30" y1="359.60" x2="272.30" y2="359.60" stroke="#111" stroke-width="1.2" />
<line x1="251.30" y1="357.60" x2="251.30" y2="361.80" stroke="#111" stroke-width="1.1" />
<line x1="272.30" y1="357.60" x2="272.30" y2="361.80" stroke="#111" stroke-width="1.1" />
<text x="261.80" y="356.51" font-size="7.3" text-anchor="middle" font-weight="normal" font-style="normal" fill="#111" >0.0088</text>
<line x1="277.60" y1="359.60" x2="298.80" y2="359.60" stroke="#111" stroke-width="1.2" />
<line x1="277.60" y1="357.60" x2="277.60" y2="361.80" stroke="#111" stroke-width="1.1" />
<line x1="298.80" y1="357.60" x2="298.80" y2="361.80" stroke="#111" stroke-width="1.1" />
<text x="288.20" y="356.51" font-size="7.3" text-anchor="middle" font-weight="normal" font-style="normal" fill="#111" >0.2890</text>
<line x1="255.00" y1="383.30" x2="268.50" y2="382.20" stroke="#a88a8a" stroke-width="0.6" />
<line x1="255.00" y1="390.50" x2="268.50" y2="386.80" stroke="#a88a8a" stroke-width="0.6" />
<line x1="255.00" y1="392.30" x2="268.50" y2="388.60" stroke="#a88a8a" stroke-width="0.6" />
<line x1="255.00" y1="394.70" x2="268.50" y2="388.80" stroke="#a88a8a" stroke-width="0.6" />
<line x1="255.00" y1="407.50" x2="268.50" y2="394.50" stroke="#a88a8a" stroke-width="0.6" />
<line x1="255.00" y1="419.50" x2="268.50" y2="396.80" stroke="#a88a8a" stroke-width="0.6" />
<line x1="281.70" y1="371.80" x2="294.70" y2="371.20" stroke="#a88a8a" stroke-width="0.6" />
<line x1="281.70" y1="377.20" x2="294.70" y2="377.20" stroke="#a88a8a" stroke-width="0.6" />
<line x1="281.70" y1="386.20" x2="294.70" y2="377.60" stroke="#a88a8a" stroke-width="0.6" />
<line x1="281.70" y1="389.20" x2="294.70" y2="387.00" stroke="#a88a8a" stroke-width="0.6" />
<line x1="281.70" y1="392.60" x2="294.70" y2="388.40" stroke="#a88a8a" stroke-width="0.6" />
<line x1="281.70" y1="401.50" x2="294.70" y2="405.50" stroke="#a88a8a" stroke-width="0.6" />
<circle cx="255.00" cy="383.30" r="1.55" fill="#fff" stroke="#111" stroke-width="1.3"/>
<circle cx="255.00" cy="390.50" r="1.55" fill="#fff" stroke="#111" stroke-width="1.3"/>
<circle cx="255.00" cy="392.30" r="1.55" fill="#fff" stroke="#111" stroke-width="1.3"/>
<circle cx="255.00" cy="394.70" r="1.55" fill="#fff" stroke="#111" stroke-width="1.3"/>
<circle cx="255.00" cy="407.50" r="1.55" fill="#fff" stroke="#111" stroke-width="1.3"/>
<circle cx="255.00" cy="419.50" r="1.55" fill="#fff" stroke="#111" stroke-width="1.3"/>
<circle cx="268.50" cy="382.20" r="1.7" fill="#fff" stroke="#c4262e" stroke-width="1.3"/>
<circle cx="268.50" cy="386.80" r="1.7" fill="#fff" stroke="#c4262e" stroke-width="1.3"/>
<circle cx="268.50" cy="388.60" r="1.7" fill="#fff" stroke="#c4262e" stroke-width="1.3"/>
<circle cx="268.50" cy="388.80" r="1.7" fill="#fff" stroke="#c4262e" stroke-width="1.3"/>
<circle cx="268.50" cy="394.50" r="1.7" fill="#fff" stroke="#c4262e" stroke-width="1.3"/>
<circle cx="268.50" cy="396.80" r="1.7" fill="#fff" stroke="#c4262e" stroke-width="1.3"/>
<circle cx="281.70" cy="371.80" r="2.1" fill="#111" stroke="none" stroke-width="0"/>
<circle cx="294.70" cy="371.20" r="2.3" fill="#c4262e" stroke="none" stroke-width="0"/>
<circle cx="281.70" cy="377.20" r="2.1" fill="#111" stroke="none" stroke-width="0"/>
<circle cx="294.70" cy="377.20" r="2.3" fill="#c4262e" stroke="none" stroke-width="0"/>
<circle cx="281.70" cy="386.20" r="2.1" fill="#111" stroke="none" stroke-width="0"/>
<circle cx="294.70" cy="377.60" r="2.3" fill="#c4262e" stroke="none" stroke-width="0"/>
<circle cx="281.70" cy="389.20" r="2.1" fill="#111" stroke="none" stroke-width="0"/>
<circle cx="294.70" cy="387.00" r="2.3" fill="#c4262e" stroke="none" stroke-width="0"/>
<circle cx="281.70" cy="392.60" r="2.1" fill="#111" stroke="none" stroke-width="0"/>
<circle cx="294.70" cy="388.40" r="2.3" fill="#c4262e" stroke="none" stroke-width="0"/>
<circle cx="281.70" cy="401.50" r="2.1" fill="#111" stroke="none" stroke-width="0"/>
<circle cx="294.70" cy="405.50" r="2.3" fill="#c4262e" stroke="none" stroke-width="0"/>
<text x="313.00" y="333.96" font-size="10.5" text-anchor="start" font-weight="bold" font-style="normal" fill="#111" >D</text>
<text x="396.60" y="334.79" font-size="8.9" text-anchor="middle" font-weight="normal" font-style="normal" fill="#111" >Erk1/2 Activity</text>
<text x="366.30" y="348.08" font-size="7.2" text-anchor="middle" font-weight="normal" font-style="normal" fill="#111" >0.3</text>
<text x="425.40" y="347.88" font-size="7.2" text-anchor="middle" font-weight="normal" font-style="normal" fill="#111" >1</text>
<text x="447.30" y="348.27" font-size="8.3" text-anchor="start" font-weight="normal" font-style="normal" fill="#111" >[fMLP] (&#181;M)</text>
<rect x="334.2" y="355.6" width="124.19999999999999" height="33.89999999999998" fill="#aac3da" stroke="#959b9f" stroke-width="1"/>
<rect x="334.2" y="393.3" width="124.19999999999999" height="33.80000000000001" fill="#aac3da" stroke="#959b9f" stroke-width="1"/>
<text x="326.40" y="359.53" font-size="7.9" text-anchor="end" font-weight="normal" font-style="normal" fill="#111" >52</text>
<line x1="328.80" y1="356.70" x2="331.70" y2="356.70" stroke="#111" stroke-width="1.1" />
<text x="326.40" y="392.33" font-size="7.9" text-anchor="end" font-weight="normal" font-style="normal" fill="#111" >38</text>
<line x1="328.80" y1="389.50" x2="331.70" y2="389.50" stroke="#111" stroke-width="1.1" />
<text x="326.40" y="398.03" font-size="7.9" text-anchor="end" font-weight="normal" font-style="normal" fill="#111" >52</text>
<line x1="328.80" y1="395.20" x2="331.70" y2="395.20" stroke="#111" stroke-width="1.1" />
<text x="326.40" y="428.83" font-size="7.9" text-anchor="end" font-weight="normal" font-style="normal" fill="#111" >38</text>
<line x1="328.80" y1="426.00" x2="331.70" y2="426.00" stroke="#111" stroke-width="1.1" />
<rect x="347.00" y="366.80" width="16.00" height="3.00" rx="1.50" ry="1.50" fill="#2a3550" opacity="0.12" filter="url(#b2)" clip-path="url(#blotclip)"/>
<rect x="371.50" y="366.75" width="19.00" height="4.50" rx="2.25" ry="2.25" fill="#2a3550" opacity="0.45" filter="url(#b15)" clip-path="url(#blotclip)"/>
<rect x="372.50" y="375.00" width="17.00" height="3.00" rx="1.50" ry="1.50" fill="#2a3550" opacity="0.15" filter="url(#b2)" clip-path="url(#blotclip)"/>
<rect x="402.00" y="369.00" width="20.00" height="10.00" rx="5.00" ry="5.00" fill="#241f1d" opacity="0.55" filter="url(#b15)" clip-path="url(#blotclip)"/>
<rect x="401.50" y="367.70" width="21.00" height="5.00" rx="2.50" ry="2.50" fill="#241f1d" opacity="0.9" filter="url(#b15)" clip-path="url(#blotclip)"/>
<rect x="401.50" y="375.35" width="21.00" height="4.50" rx="2.25" ry="2.25" fill="#241f1d" opacity="0.85" filter="url(#b15)" clip-path="url(#blotclip)"/>
<rect x="428.75" y="365.55" width="24.50" height="18.50" rx="4.00" ry="4.00" fill="#241f1d" opacity="1" filter="url(#b15)" clip-path="url(#blotclip)"/>
<rect x="440.00" y="365.00" width="12.00" height="3.00" rx="1.50" ry="1.50" fill="#241f1d" opacity="0.8" filter="url(#b15)" clip-path="url(#blotclip)"/>
<rect x="334.40" y="406.50" width="3.60" height="8.00" rx="3.00" ry="3.00" fill="#241f1d" opacity="1" filter="url(#b15)" clip-path="url(#blotclip)"/>
<rect x="343.20" y="405.45" width="24.00" height="9.50" rx="3.00" ry="3.00" fill="#241f1d" opacity="1" filter="url(#b15)" clip-path="url(#blotclip)"/>
<rect x="373.35" y="406.85" width="20.50" height="7.50" rx="3.00" ry="3.00" fill="#241f1d" opacity="0.9" filter="url(#b15)" clip-path="url(#blotclip)"/>
<rect x="400.00" y="407.00" width="24.00" height="10.00" rx="3.00" ry="3.00" fill="#241f1d" opacity="1" filter="url(#b15)" clip-path="url(#blotclip)"/>
<rect x="428.70" y="407.75" width="23.00" height="8.50" rx="3.00" ry="3.00" fill="#241f1d" opacity="1" filter="url(#b15)" clip-path="url(#blotclip)"/>
<rect x="456.05" y="410.50" width="2.50" height="6.00" rx="3.00" ry="3.00" fill="#241f1d" opacity="0.9" filter="url(#b15)" clip-path="url(#blotclip)"/>
<rect x="346.50" y="415.00" width="19.00" height="6.00" rx="3.00" ry="3.00" fill="#241f1d" opacity="0.45" filter="url(#b2)" clip-path="url(#blotclip)"/>
<rect x="402.00" y="416.00" width="20.00" height="6.00" rx="3.00" ry="3.00" fill="#241f1d" opacity="0.5" filter="url(#b2)" clip-path="url(#blotclip)"/>
<text x="461.20" y="369.61" font-size="7.3" text-anchor="start" font-weight="normal" font-style="normal" fill="#111" >p-Erk1/2</text>
<text x="461.20" y="381.11" font-size="7.3" text-anchor="start" font-weight="normal" font-style="normal" fill="#111" >T202/Y204</text>
<text x="461.20" y="408.31" font-size="7.3" text-anchor="start" font-weight="normal" font-style="normal" fill="#111" >Erk1/2</text>
<text x="461.20" y="419.61" font-size="7.3" text-anchor="start" font-weight="normal" font-style="normal" fill="#111" >(p42/44)</text>
<circle cx="353.70" cy="436.50" r="3.3" fill="#111" stroke="none" stroke-width="0"/>
<circle cx="381.80" cy="436.50" r="3.3" fill="#c4262e" stroke="none" stroke-width="0"/>
<circle cx="410.10" cy="436.50" r="3.3" fill="#111" stroke="none" stroke-width="0"/>
<circle cx="438.80" cy="436.50" r="3.3" fill="#c4262e" stroke="none" stroke-width="0"/>
<text x="17.50" y="491.76" font-size="10.5" text-anchor="start" font-weight="bold" font-style="normal" fill="#111" >E</text>
<text x="146.00" y="492.69" font-size="8.9" text-anchor="middle" font-weight="normal" font-style="normal" fill="#111" >Rac Inhibitor</text>
<line x1="55.50" y1="513.80" x2="55.50" y2="603.50" stroke="#111" stroke-width="1.2" />
<line x1="52.00" y1="603.50" x2="55.50" y2="603.50" stroke="#111" stroke-width="1" />
<text x="50.50" y="606.40" font-size="8.1" text-anchor="end" font-weight="normal" font-style="normal" fill="#111" >0</text>
<line x1="52.00" y1="581.20" x2="55.50" y2="581.20" stroke="#111" stroke-width="1" />
<text x="50.50" y="584.10" font-size="8.1" text-anchor="end" font-weight="normal" font-style="normal" fill="#111" >0.5</text>
<line x1="52.00" y1="558.90" x2="55.50" y2="558.90" stroke="#111" stroke-width="1" />
<text x="50.50" y="561.80" font-size="8.1" text-anchor="end" font-weight="normal" font-style="normal" fill="#111" >1.0</text>
<line x1="52.00" y1="536.60" x2="55.50" y2="536.60" stroke="#111" stroke-width="1" />
<text x="50.50" y="539.50" font-size="8.1" text-anchor="end" font-weight="normal" font-style="normal" fill="#111" >1.5</text>
<line x1="52.00" y1="514.30" x2="55.50" y2="514.30" stroke="#111" stroke-width="1" />
<text x="50.50" y="517.20" font-size="8.1" text-anchor="end" font-weight="normal" font-style="normal" fill="#111" >2.0</text>
<line x1="55.50" y1="603.50" x2="236.50" y2="603.50" stroke="#111" stroke-width="1.2" />
<line x1="55.50" y1="603.50" x2="55.50" y2="607.00" stroke="#111" stroke-width="1" />
<text x="55.50" y="616.79" font-size="7.8" text-anchor="middle" font-weight="normal" font-style="normal" fill="#111" >0.1</text>
<line x1="69.11" y1="603.50" x2="69.11" y2="605.50" stroke="#111" stroke-width="0.8" />
<line x1="77.07" y1="603.50" x2="77.07" y2="605.50" stroke="#111" stroke-width="0.8" />
<line x1="82.71" y1="603.50" x2="82.71" y2="605.50" stroke="#111" stroke-width="0.8" />
<line x1="87.09" y1="603.50" x2="87.09" y2="605.50" stroke="#111" stroke-width="0.8" />
<line x1="90.67" y1="603.50" x2="90.67" y2="605.50" stroke="#111" stroke-width="0.8" />
<line x1="93.70" y1="603.50" x2="93.70" y2="605.50" stroke="#111" stroke-width="0.8" />
<line x1="96.32" y1="603.50" x2="96.32" y2="605.50" stroke="#111" stroke-width="0.8" />
<line x1="98.63" y1="603.50" x2="98.63" y2="605.50" stroke="#111" stroke-width="0.8" />
<line x1="100.70" y1="603.50" x2="100.70" y2="607.00" stroke="#111" stroke-width="1" />
<text x="100.70" y="616.79" font-size="7.8" text-anchor="middle" font-weight="normal" font-style="normal" fill="#111" >1</text>
<line x1="114.31" y1="603.50" x2="114.31" y2="605.50" stroke="#111" stroke-width="0.8" />
<line x1="122.27" y1="603.50" x2="122.27" y2="605.50" stroke="#111" stroke-width="0.8" />
<line x1="127.91" y1="603.50" x2="127.91" y2="605.50" stroke="#111" stroke-width="0.8" />
<line x1="132.29" y1="603.50" x2="132.29" y2="605.50" stroke="#111" stroke-width="0.8" />
<line x1="135.87" y1="603.50" x2="135.87" y2="605.50" stroke="#111" stroke-width="0.8" />
<line x1="138.90" y1="603.50" x2="138.90" y2="605.50" stroke="#111" stroke-width="0.8" />
<line x1="141.52" y1="603.50" x2="141.52" y2="605.50" stroke="#111" stroke-width="0.8" />
<line x1="143.83" y1="603.50" x2="143.83" y2="605.50" stroke="#111" stroke-width="0.8" />
<line x1="145.90" y1="603.50" x2="145.90" y2="607.00" stroke="#111" stroke-width="1" />
<text x="145.90" y="616.79" font-size="7.8" text-anchor="middle" font-weight="normal" font-style="normal" fill="#111" >10</text>
<line x1="159.51" y1="603.50" x2="159.51" y2="605.50" stroke="#111" stroke-width="0.8" />
<line x1="167.47" y1="603.50" x2="167.47" y2="605.50" stroke="#111" stroke-width="0.8" />
<line x1="173.11" y1="603.50" x2="173.11" y2="605.50" stroke="#111" stroke-width="0.8" />
<line x1="177.49" y1="603.50" x2="177.49" y2="605.50" stroke="#111" stroke-width="0.8" />
<line x1="181.07" y1="603.50" x2="181.07" y2="605.50" stroke="#111" stroke-width="0.8" />
<line x1="184.10" y1="603.50" x2="184.10" y2="605.50" stroke="#111" stroke-width="0.8" />
<line x1="186.72" y1="603.50" x2="186.72" y2="605.50" stroke="#111" stroke-width="0.8" />
<line x1="189.03" y1="603.50" x2="189.03" y2="605.50" stroke="#111" stroke-width="0.8" />
<line x1="191.10" y1="603.50" x2="191.10" y2="607.00" stroke="#111" stroke-width="1" />
<text x="191.10" y="616.79" font-size="7.8" text-anchor="middle" font-weight="normal" font-style="normal" fill="#111" >100</text>
<line x1="204.71" y1="603.50" x2="204.71" y2="605.50" stroke="#111" stroke-width="0.8" />
<line x1="212.67" y1="603.50" x2="212.67" y2="605.50" stroke="#111" stroke-width="0.8" />
<line x1="218.31" y1="603.50" x2="218.31" y2="605.50" stroke="#111" stroke-width="0.8" />
<line x1="222.69" y1="603.50" x2="222.69" y2="605.50" stroke="#111" stroke-width="0.8" />
<line x1="226.27" y1="603.50" x2="226.27" y2="605.50" stroke="#111" stroke-width="0.8" />
<line x1="229.30" y1="603.50" x2="229.30" y2="605.50" stroke="#111" stroke-width="0.8" />
<line x1="231.92" y1="603.50" x2="231.92" y2="605.50" stroke="#111" stroke-width="0.8" />
<line x1="234.23" y1="603.50" x2="234.23" y2="605.50" stroke="#111" stroke-width="0.8" />
<line x1="236.30" y1="603.50" x2="236.30" y2="607.00" stroke="#111" stroke-width="1" />
<text x="236.30" y="616.79" font-size="7.8" text-anchor="middle" font-weight="normal" font-style="normal" fill="#111" >1000</text>
<text x="144.60" y="630.16" font-size="8" text-anchor="middle" font-weight="normal" font-style="normal" fill="#111" >[EHT 1864] (&#181;M)</text>
<text transform="translate(28.5,559) rotate(-90)" font-size="8" text-anchor="middle" y="2.86" fill="#111">ROS (AUC x 10<tspan font-size="4.5" dy="-3">7</tspan><tspan dy="3">)</tspan></text>
<polyline points="55.50,549.98 57.29,550.08 59.07,550.17 60.84,550.25 62.61,550.33 64.38,550.40 66.15,550.48 67.93,550.57 69.72,550.67 71.53,550.80 73.35,550.94 75.20,551.11 77.07,551.32 78.97,551.54 80.91,551.78 82.88,552.02 84.87,552.28 86.87,552.55 88.88,552.85 90.89,553.18 92.90,553.53 94.89,553.92 96.86,554.35 98.80,554.82 100.70,555.33 102.56,555.89 104.39,556.49 106.19,557.13 107.97,557.81 109.73,558.52 111.48,559.26 113.24,560.03 115.00,560.83 116.78,561.66 118.58,562.50 120.40,563.37 122.27,564.25 124.17,565.18 126.11,566.16 128.08,567.19 130.07,568.25 132.07,569.34 134.08,570.44 136.09,571.55 138.10,572.64 140.09,573.72 142.06,574.77 144.00,575.78 145.90,576.74 147.79,577.66 149.71,578.55 151.62,579.42 153.54,580.27 155.44,581.11 157.31,581.92 159.15,582.73 160.94,583.51 162.68,584.29 164.36,585.05 165.95,585.81 167.47,586.55 168.89,587.29 170.24,588.01 171.51,588.73 172.72,589.43 173.88,590.11 174.99,590.79 176.06,591.45 177.10,592.10 178.11,592.74 179.10,593.37 180.09,593.98 181.07,594.58 182.03,595.16 182.95,595.72 183.83,596.27 184.68,596.79 185.50,597.31 186.31,597.81 187.10,598.31 187.89,598.81 188.68,599.30 189.47,599.80 190.28,600.31 191.10,600.82" fill="none" stroke="#111" stroke-width="1.3" stroke-dasharray="1.4,1.1"/>
<polyline points="55.50,530.13 57.29,530.09 59.07,530.05 60.84,530.00 62.61,529.94 64.38,529.89 66.15,529.84 67.93,529.79 69.72,529.75 71.53,529.72 73.35,529.70 75.20,529.69 77.07,529.69 78.97,529.69 80.91,529.68 82.88,529.68 84.87,529.67 86.87,529.67 88.88,529.69 90.89,529.72 92.90,529.78 94.89,529.86 96.86,529.99 98.80,530.15 100.70,530.36 102.56,530.60 104.39,530.86 106.19,531.15 107.97,531.46 109.73,531.81 111.48,532.18 113.24,532.59 115.00,533.04 116.78,533.53 118.58,534.06 120.40,534.64 122.27,535.26 124.17,535.92 126.11,536.58 128.08,537.27 130.07,537.99 132.07,538.75 134.08,539.55 136.09,540.42 138.10,541.36 140.09,542.37 142.06,543.47 144.00,544.67 145.90,545.97 147.79,547.41 149.71,549.02 151.62,550.76 153.54,552.61 155.44,554.53 157.31,556.50 159.15,558.50 160.94,560.49 162.68,562.44 164.36,564.33 165.95,566.14 167.47,567.82 168.89,569.41 170.24,570.96 171.51,572.46 172.72,573.93 173.88,575.36 174.99,576.77 176.06,578.14 177.10,579.50 178.11,580.83 179.10,582.15 180.09,583.46 181.07,584.77 182.03,586.05 182.95,587.30 183.83,588.52 184.68,589.72 185.50,590.90 186.31,592.07 187.10,593.23 187.89,594.38 188.68,595.53 189.47,596.69 190.28,597.86 191.10,599.04" fill="none" stroke="#c4262e" stroke-width="1.3" stroke-dasharray="1.4,1.1"/>
<polyline points="55.50,530.80 77.07,528.57 100.70,530.36 122.27,537.49 145.90,546.86 167.47,569.60 181.07,585.66 191.10,600.82 212.67,603.05" fill="none" stroke="#c4262e" stroke-width="1.6"/>
<line x1="55.50" y1="536.60" x2="55.50" y2="525.00" stroke="#c4262e" stroke-width="1.1" />
<line x1="53.30" y1="536.60" x2="57.70" y2="536.60" stroke="#c4262e" stroke-width="1.1" />
<line x1="53.30" y1="525.00" x2="57.70" y2="525.00" stroke="#c4262e" stroke-width="1.1" />
<circle cx="55.50" cy="530.80" r="2.7" fill="#c4262e" stroke="none" stroke-width="0"/>
<line x1="77.07" y1="536.15" x2="77.07" y2="520.99" stroke="#c4262e" stroke-width="1.1" />
<line x1="74.87" y1="536.15" x2="79.27" y2="536.15" stroke="#c4262e" stroke-width="1.1" />
<line x1="74.87" y1="520.99" x2="79.27" y2="520.99" stroke="#c4262e" stroke-width="1.1" />
<circle cx="77.07" cy="528.57" r="2.7" fill="#c4262e" stroke="none" stroke-width="0"/>
<line x1="100.70" y1="538.83" x2="100.70" y2="521.88" stroke="#c4262e" stroke-width="1.1" />
<line x1="98.50" y1="538.83" x2="102.90" y2="538.83" stroke="#c4262e" stroke-width="1.1" />
<line x1="98.50" y1="521.88" x2="102.90" y2="521.88" stroke="#c4262e" stroke-width="1.1" />
<circle cx="100.70" cy="530.36" r="2.7" fill="#c4262e" stroke="none" stroke-width="0"/>
<line x1="122.27" y1="542.84" x2="122.27" y2="532.14" stroke="#c4262e" stroke-width="1.1" />
<line x1="120.07" y1="542.84" x2="124.47" y2="542.84" stroke="#c4262e" stroke-width="1.1" />
<line x1="120.07" y1="532.14" x2="124.47" y2="532.14" stroke="#c4262e" stroke-width="1.1" />
<circle cx="122.27" cy="537.49" r="2.7" fill="#c4262e" stroke="none" stroke-width="0"/>
<line x1="145.90" y1="551.32" x2="145.90" y2="542.40" stroke="#c4262e" stroke-width="1.1" />
<line x1="143.70" y1="551.32" x2="148.10" y2="551.32" stroke="#c4262e" stroke-width="1.1" />
<line x1="143.70" y1="542.40" x2="148.10" y2="542.40" stroke="#c4262e" stroke-width="1.1" />
<circle cx="145.90" cy="546.86" r="2.7" fill="#c4262e" stroke="none" stroke-width="0"/>
<line x1="167.47" y1="581.20" x2="167.47" y2="558.01" stroke="#c4262e" stroke-width="1.1" />
<line x1="165.27" y1="581.20" x2="169.67" y2="581.20" stroke="#c4262e" stroke-width="1.1" />
<line x1="165.27" y1="558.01" x2="169.67" y2="558.01" stroke="#c4262e" stroke-width="1.1" />
<circle cx="167.47" cy="569.60" r="2.7" fill="#c4262e" stroke="none" stroke-width="0"/>
<line x1="181.07" y1="604.39" x2="181.07" y2="566.93" stroke="#c4262e" stroke-width="1.1" />
<line x1="178.87" y1="604.39" x2="183.27" y2="604.39" stroke="#c4262e" stroke-width="1.1" />
<line x1="178.87" y1="566.93" x2="183.27" y2="566.93" stroke="#c4262e" stroke-width="1.1" />
<circle cx="181.07" cy="585.66" r="2.7" fill="#c4262e" stroke="none" stroke-width="0"/>
<line x1="191.10" y1="602.61" x2="191.10" y2="599.04" stroke="#c4262e" stroke-width="1.1" />
<line x1="188.90" y1="602.61" x2="193.30" y2="602.61" stroke="#c4262e" stroke-width="1.1" />
<line x1="188.90" y1="599.04" x2="193.30" y2="599.04" stroke="#c4262e" stroke-width="1.1" />
<circle cx="191.10" cy="600.82" r="2.7" fill="#c4262e" stroke="none" stroke-width="0"/>
<circle cx="212.67" cy="603.05" r="2.7" fill="#c4262e" stroke="none" stroke-width="0"/>
<polyline points="55.50,549.09 77.07,550.87 100.70,548.64 122.27,570.94 145.90,578.52 167.47,585.66 181.07,591.46 191.10,602.61 212.67,603.05" fill="none" stroke="#111" stroke-width="1.6"/>
<line x1="55.50" y1="560.24" x2="55.50" y2="537.94" stroke="#111" stroke-width="1.1" />
<line x1="53.30" y1="560.24" x2="57.70" y2="560.24" stroke="#111" stroke-width="1.1" />
<line x1="53.30" y1="537.94" x2="57.70" y2="537.94" stroke="#111" stroke-width="1.1" />
<circle cx="55.50" cy="549.09" r="2.7" fill="#111" stroke="none" stroke-width="0"/>
<line x1="77.07" y1="558.45" x2="77.07" y2="543.29" stroke="#111" stroke-width="1.1" />
<line x1="74.87" y1="558.45" x2="79.27" y2="558.45" stroke="#111" stroke-width="1.1" />
<line x1="74.87" y1="543.29" x2="79.27" y2="543.29" stroke="#111" stroke-width="1.1" />
<circle cx="77.07" cy="550.87" r="2.7" fill="#111" stroke="none" stroke-width="0"/>
<line x1="100.70" y1="557.56" x2="100.70" y2="539.72" stroke="#111" stroke-width="1.1" />
<line x1="98.50" y1="557.56" x2="102.90" y2="557.56" stroke="#111" stroke-width="1.1" />
<line x1="98.50" y1="539.72" x2="102.90" y2="539.72" stroke="#111" stroke-width="1.1" />
<circle cx="100.70" cy="548.64" r="2.7" fill="#111" stroke="none" stroke-width="0"/>
<line x1="122.27" y1="580.75" x2="122.27" y2="561.13" stroke="#111" stroke-width="1.1" />
<line x1="120.07" y1="580.75" x2="124.47" y2="580.75" stroke="#111" stroke-width="1.1" />
<line x1="120.07" y1="561.13" x2="124.47" y2="561.13" stroke="#111" stroke-width="1.1" />
<circle cx="122.27" cy="570.94" r="2.7" fill="#111" stroke="none" stroke-width="0"/>
<line x1="145.90" y1="586.11" x2="145.90" y2="570.94" stroke="#111" stroke-width="1.1" />
<line x1="143.70" y1="586.11" x2="148.10" y2="586.11" stroke="#111" stroke-width="1.1" />
<line x1="143.70" y1="570.94" x2="148.10" y2="570.94" stroke="#111" stroke-width="1.1" />
<circle cx="145.90" cy="578.52" r="2.7" fill="#111" stroke="none" stroke-width="0"/>
<line x1="167.47" y1="591.01" x2="167.47" y2="580.31" stroke="#111" stroke-width="1.1" />
<line x1="165.27" y1="591.01" x2="169.67" y2="591.01" stroke="#111" stroke-width="1.1" />
<line x1="165.27" y1="580.31" x2="169.67" y2="580.31" stroke="#111" stroke-width="1.1" />
<circle cx="167.47" cy="585.66" r="2.7" fill="#111" stroke="none" stroke-width="0"/>
<line x1="181.07" y1="600.38" x2="181.07" y2="582.54" stroke="#111" stroke-width="1.1" />
<line x1="178.87" y1="600.38" x2="183.27" y2="600.38" stroke="#111" stroke-width="1.1" />
<line x1="178.87" y1="582.54" x2="183.27" y2="582.54" stroke="#111" stroke-width="1.1" />
<circle cx="181.07" cy="591.46" r="2.7" fill="#111" stroke="none" stroke-width="0"/>
<line x1="191.10" y1="603.50" x2="191.10" y2="601.72" stroke="#111" stroke-width="1.1" />
<line x1="188.90" y1="603.50" x2="193.30" y2="603.50" stroke="#111" stroke-width="1.1" />
<line x1="188.90" y1="601.72" x2="193.30" y2="601.72" stroke="#111" stroke-width="1.1" />
<circle cx="191.10" cy="602.61" r="2.7" fill="#111" stroke="none" stroke-width="0"/>
<circle cx="212.67" cy="603.05" r="2.7" fill="#111" stroke="none" stroke-width="0"/>
<text x="77.07" y="514.08" font-size="7.2" text-anchor="middle" font-weight="normal" font-style="normal" fill="#111" >*</text>
<text x="122.27" y="525.08" font-size="7.2" text-anchor="middle" font-weight="normal" font-style="normal" fill="#111" >***</text>
<text x="145.90" y="534.58" font-size="7.2" text-anchor="middle" font-weight="normal" font-style="normal" fill="#111" >**</text>
<circle cx="160.00" cy="515.60" r="3.4" fill="#111" stroke="none" stroke-width="0"/>
<circle cx="160.00" cy="529.80" r="3.4" fill="#c4262e" stroke="none" stroke-width="0"/>
<text x="166.60" y="518.51" font-size="7.3" text-anchor="start" font-weight="normal" font-style="normal" fill="#111" >Ncdn<tspan font-size="4.5" font-style="italic" dx="0.6" dy="-2.2">fl/fl</tspan><tspan dy="2.2">; IC</tspan><tspan font-size="4.5" dy="1.8">50</tspan><tspan dy="-1.8" dx="0.5">= 8.5 &#181;M</tspan></text>
<text x="166.60" y="532.71" font-size="7.3" text-anchor="start" font-weight="normal" font-style="normal" fill="#111" >Ncdn<tspan font-size="4.5" font-style="italic" dx="0.8" dy="-2.2">&#916;mye</tspan><tspan dy="2.2">; IC</tspan><tspan font-size="4.5" dy="1.8">50</tspan><tspan dy="-1.8" dx="0.5">= 22.8 &#181;M</tspan></text>
<text x="273.80" y="491.76" font-size="10.5" text-anchor="start" font-weight="bold" font-style="normal" fill="#111" >F</text>
<text x="402.00" y="492.69" font-size="8.9" text-anchor="middle" font-weight="normal" font-style="normal" fill="#111" >Erk Inhibitor</text>
<line x1="311.75" y1="514.00" x2="311.75" y2="604.50" stroke="#111" stroke-width="1.2" />
<line x1="308.25" y1="604.50" x2="311.75" y2="604.50" stroke="#111" stroke-width="1" />
<text x="306.75" y="607.40" font-size="8.1" text-anchor="end" font-weight="normal" font-style="normal" fill="#111" >0</text>
<line x1="308.25" y1="582.00" x2="311.75" y2="582.00" stroke="#111" stroke-width="1" />
<text x="306.75" y="584.90" font-size="8.1" text-anchor="end" font-weight="normal" font-style="normal" fill="#111" >0.4</text>
<line x1="308.25" y1="559.50" x2="311.75" y2="559.50" stroke="#111" stroke-width="1" />
<text x="306.75" y="562.40" font-size="8.1" text-anchor="end" font-weight="normal" font-style="normal" fill="#111" >0.8</text>
<line x1="308.25" y1="537.00" x2="311.75" y2="537.00" stroke="#111" stroke-width="1" />
<text x="306.75" y="539.90" font-size="8.1" text-anchor="end" font-weight="normal" font-style="normal" fill="#111" >1.2</text>
<line x1="308.25" y1="514.50" x2="311.75" y2="514.50" stroke="#111" stroke-width="1" />
<text x="306.75" y="517.40" font-size="8.1" text-anchor="end" font-weight="normal" font-style="normal" fill="#111" >1.6</text>
<line x1="311.75" y1="604.50" x2="492.30" y2="604.50" stroke="#111" stroke-width="1.2" />
<line x1="311.75" y1="604.50" x2="311.75" y2="608.00" stroke="#111" stroke-width="1" />
<text x="311.75" y="616.79" font-size="7.8" text-anchor="middle" font-weight="normal" font-style="normal" fill="#111" >0.001</text>
<line x1="320.12" y1="604.50" x2="320.12" y2="606.50" stroke="#111" stroke-width="0.8" />
<line x1="325.01" y1="604.50" x2="325.01" y2="606.50" stroke="#111" stroke-width="0.8" />
<line x1="328.49" y1="604.50" x2="328.49" y2="606.50" stroke="#111" stroke-width="0.8" />
<line x1="331.18" y1="604.50" x2="331.18" y2="606.50" stroke="#111" stroke-width="0.8" />
<line x1="333.38" y1="604.50" x2="333.38" y2="606.50" stroke="#111" stroke-width="0.8" />
<line x1="335.24" y1="604.50" x2="335.24" y2="606.50" stroke="#111" stroke-width="0.8" />
<line x1="336.86" y1="604.50" x2="336.86" y2="606.50" stroke="#111" stroke-width="0.8" />
<line x1="338.28" y1="604.50" x2="338.28" y2="606.50" stroke="#111" stroke-width="0.8" />
<line x1="339.55" y1="604.50" x2="339.55" y2="608.00" stroke="#111" stroke-width="1" />
<text x="339.55" y="616.79" font-size="7.8" text-anchor="middle" font-weight="normal" font-style="normal" fill="#111" >0.01</text>
<line x1="347.92" y1="604.50" x2="347.92" y2="606.50" stroke="#111" stroke-width="0.8" />
<line x1="352.81" y1="604.50" x2="352.81" y2="606.50" stroke="#111" stroke-width="0.8" />
<line x1="356.29" y1="604.50" x2="356.29" y2="606.50" stroke="#111" stroke-width="0.8" />
<line x1="358.98" y1="604.50" x2="358.98" y2="606.50" stroke="#111" stroke-width="0.8" />
<line x1="361.18" y1="604.50" x2="361.18" y2="606.50" stroke="#111" stroke-width="0.8" />
<line x1="363.04" y1="604.50" x2="363.04" y2="606.50" stroke="#111" stroke-width="0.8" />
<line x1="364.66" y1="604.50" x2="364.66" y2="606.50" stroke="#111" stroke-width="0.8" />
<line x1="366.08" y1="604.50" x2="366.08" y2="606.50" stroke="#111" stroke-width="0.8" />
<line x1="367.35" y1="604.50" x2="367.35" y2="608.00" stroke="#111" stroke-width="1" />
<text x="367.35" y="616.79" font-size="7.8" text-anchor="middle" font-weight="normal" font-style="normal" fill="#111" >0.1</text>
<line x1="375.72" y1="604.50" x2="375.72" y2="606.50" stroke="#111" stroke-width="0.8" />
<line x1="380.61" y1="604.50" x2="380.61" y2="606.50" stroke="#111" stroke-width="0.8" />
<line x1="384.09" y1="604.50" x2="384.09" y2="606.50" stroke="#111" stroke-width="0.8" />
<line x1="386.78" y1="604.50" x2="386.78" y2="606.50" stroke="#111" stroke-width="0.8" />
<line x1="388.98" y1="604.50" x2="388.98" y2="606.50" stroke="#111" stroke-width="0.8" />
<line x1="390.84" y1="604.50" x2="390.84" y2="606.50" stroke="#111" stroke-width="0.8" />
<line x1="392.46" y1="604.50" x2="392.46" y2="606.50" stroke="#111" stroke-width="0.8" />
<line x1="393.88" y1="604.50" x2="393.88" y2="606.50" stroke="#111" stroke-width="0.8" />
<line x1="395.15" y1="604.50" x2="395.15" y2="608.00" stroke="#111" stroke-width="1" />
<text x="395.15" y="616.79" font-size="7.8" text-anchor="middle" font-weight="normal" font-style="normal" fill="#111" >1</text>
<line x1="403.52" y1="604.50" x2="403.52" y2="606.50" stroke="#111" stroke-width="0.8" />
<line x1="408.41" y1="604.50" x2="408.41" y2="606.50" stroke="#111" stroke-width="0.8" />
<line x1="411.89" y1="604.50" x2="411.89" y2="606.50" stroke="#111" stroke-width="0.8" />
<line x1="414.58" y1="604.50" x2="414.58" y2="606.50" stroke="#111" stroke-width="0.8" />
<line x1="416.78" y1="604.50" x2="416.78" y2="606.50" stroke="#111" stroke-width="0.8" />
<line x1="418.64" y1="604.50" x2="418.64" y2="606.50" stroke="#111" stroke-width="0.8" />
<line x1="420.26" y1="604.50" x2="420.26" y2="606.50" stroke="#111" stroke-width="0.8" />
<line x1="421.68" y1="604.50" x2="421.68" y2="606.50" stroke="#111" stroke-width="0.8" />
<line x1="422.95" y1="604.50" x2="422.95" y2="608.00" stroke="#111" stroke-width="1" />
<text x="422.95" y="616.79" font-size="7.8" text-anchor="middle" font-weight="normal" font-style="normal" fill="#111" >10</text>
<line x1="431.32" y1="604.50" x2="431.32" y2="606.50" stroke="#111" stroke-width="0.8" />
<line x1="436.21" y1="604.50" x2="436.21" y2="606.50" stroke="#111" stroke-width="0.8" />
<line x1="439.69" y1="604.50" x2="439.69" y2="606.50" stroke="#111" stroke-width="0.8" />
<line x1="442.38" y1="604.50" x2="442.38" y2="606.50" stroke="#111" stroke-width="0.8" />
<line x1="444.58" y1="604.50" x2="444.58" y2="606.50" stroke="#111" stroke-width="0.8" />
<line x1="446.44" y1="604.50" x2="446.44" y2="606.50" stroke="#111" stroke-width="0.8" />
<line x1="448.06" y1="604.50" x2="448.06" y2="606.50" stroke="#111" stroke-width="0.8" />
<line x1="449.48" y1="604.50" x2="449.48" y2="606.50" stroke="#111" stroke-width="0.8" />
<line x1="450.75" y1="604.50" x2="450.75" y2="608.00" stroke="#111" stroke-width="1" />
<text x="450.75" y="616.79" font-size="7.8" text-anchor="middle" font-weight="normal" font-style="normal" fill="#111" >100</text>
<line x1="459.12" y1="604.50" x2="459.12" y2="606.50" stroke="#111" stroke-width="0.8" />
<line x1="464.01" y1="604.50" x2="464.01" y2="606.50" stroke="#111" stroke-width="0.8" />
<line x1="467.49" y1="604.50" x2="467.49" y2="606.50" stroke="#111" stroke-width="0.8" />
<line x1="470.18" y1="604.50" x2="470.18" y2="606.50" stroke="#111" stroke-width="0.8" />
<line x1="472.38" y1="604.50" x2="472.38" y2="606.50" stroke="#111" stroke-width="0.8" />
<line x1="474.24" y1="604.50" x2="474.24" y2="606.50" stroke="#111" stroke-width="0.8" />
<line x1="475.86" y1="604.50" x2="475.86" y2="606.50" stroke="#111" stroke-width="0.8" />
<line x1="477.28" y1="604.50" x2="477.28" y2="606.50" stroke="#111" stroke-width="0.8" />
<line x1="478.55" y1="604.50" x2="478.55" y2="608.00" stroke="#111" stroke-width="1" />
<text x="478.55" y="616.79" font-size="7.8" text-anchor="middle" font-weight="normal" font-style="normal" fill="#111" >1000</text>
<text x="401.50" y="630.16" font-size="8" text-anchor="middle" font-weight="normal" font-style="normal" fill="#111" >[SCH772984] (&#181;M)</text>
<text transform="translate(282.6,559) rotate(-90)" font-size="8" text-anchor="middle" y="2.86" fill="#111">ROS (AUC x 10<tspan font-size="4.5" dy="-3">7</tspan><tspan dy="3">)</tspan></text>
<polyline points="311.75,544.88 314.07,545.20 316.38,545.52 318.70,545.83 321.02,546.15 323.33,546.46 325.65,546.77 327.97,547.09 330.28,547.42 332.60,547.75 334.92,548.09 337.23,548.44 339.55,548.81 341.87,549.19 344.18,549.57 346.50,549.96 348.82,550.35 351.13,550.76 353.45,551.17 355.77,551.59 358.08,552.02 360.40,552.46 362.72,552.92 365.03,553.39 367.35,553.88 369.71,554.39 372.15,554.93 374.64,555.50 377.16,556.08 379.67,556.68 382.16,557.29 384.60,557.89 386.96,558.48 389.22,559.06 391.36,559.61 393.34,560.14 395.15,560.62 396.76,561.08 398.19,561.49 399.46,561.88 400.60,562.25 401.64,562.60 402.61,562.95 403.53,563.28 404.44,563.62 405.35,563.97 406.30,564.34 407.31,564.72 408.41,565.12 409.58,565.55 410.78,565.98 411.99,566.43 413.21,566.88 414.44,567.33 415.68,567.80 416.92,568.27 418.15,568.75 419.38,569.24 420.59,569.73 421.78,570.24 422.95,570.75 424.10,571.27 425.22,571.79 426.33,572.32 427.42,572.85 428.50,573.40 429.58,573.95 430.66,574.51 431.75,575.08 432.84,575.67 433.94,576.26 435.07,576.87 436.21,577.50 437.34,578.13 438.41,578.74 439.45,579.36 440.47,579.98 441.51,580.61 442.57,581.26 443.69,581.94 444.88,582.65 446.15,583.39 447.55,584.19 449.07,585.03 450.75,585.94 452.60,586.91 454.62,587.96 456.77,589.06 459.03,590.21 461.39,591.40 463.82,592.62 466.30,593.86 468.79,595.10 471.29,596.35 473.76,597.59 476.19,598.81 478.55,600.00" fill="none" stroke="#111" stroke-width="1.3" stroke-dasharray="1.4,1.1"/>
<polyline points="311.75,528.00 314.07,528.18 316.38,528.36 318.70,528.54 321.02,528.71 323.33,528.88 325.65,529.05 327.97,529.23 330.28,529.42 332.60,529.61 334.92,529.81 337.23,530.02 339.55,530.25 341.87,530.48 344.18,530.72 346.50,530.96 348.82,531.21 351.13,531.46 353.45,531.73 355.77,532.00 358.08,532.29 360.40,532.60 362.72,532.92 365.03,533.26 367.35,533.62 369.71,534.01 372.15,534.43 374.64,534.87 377.16,535.33 379.67,535.81 382.16,536.30 384.60,536.79 386.96,537.29 389.22,537.79 391.36,538.29 393.34,538.77 395.15,539.25 396.76,539.71 398.19,540.17 399.46,540.62 400.60,541.06 401.64,541.51 402.61,541.96 403.53,542.41 404.44,542.88 405.35,543.35 406.30,543.84 407.31,544.35 408.41,544.88 409.58,545.41 410.78,545.95 411.99,546.49 413.21,547.04 414.44,547.60 415.68,548.18 416.92,548.78 418.15,549.40 419.38,550.04 420.59,550.72 421.78,551.43 422.95,552.19 424.10,552.97 425.22,553.79 426.33,554.63 427.42,555.50 428.50,556.40 429.58,557.32 430.66,558.27 431.75,559.25 432.84,560.26 433.94,561.29 435.07,562.35 436.21,563.44 437.34,564.55 438.41,565.68 439.45,566.83 440.47,568.00 441.51,569.20 442.57,570.43 443.69,571.70 444.88,573.00 446.15,574.34 447.55,575.72 449.07,577.15 450.75,578.62 452.60,580.16 454.62,581.77 456.77,583.43 459.03,585.15 461.39,586.90 463.82,588.68 466.30,590.48 468.79,592.29 471.29,594.10 473.76,595.90 476.19,597.69 478.55,599.44" fill="none" stroke="#c4262e" stroke-width="1.3" stroke-dasharray="1.4,1.1"/>
<polyline points="311.75,528.00 367.35,533.62 395.15,537.00 408.41,547.69 422.95,551.06 436.21,562.31 450.75,579.19 478.55,599.44" fill="none" stroke="#c4262e" stroke-width="1.6"/>
<line x1="311.75" y1="534.75" x2="311.75" y2="521.25" stroke="#c4262e" stroke-width="1.1" />
<line x1="309.55" y1="534.75" x2="313.95" y2="534.75" stroke="#c4262e" stroke-width="1.1" />
<line x1="309.55" y1="521.25" x2="313.95" y2="521.25" stroke="#c4262e" stroke-width="1.1" />
<circle cx="311.75" cy="528.00" r="2.7" fill="#c4262e" stroke="none" stroke-width="0"/>
<line x1="367.35" y1="542.62" x2="367.35" y2="524.62" stroke="#c4262e" stroke-width="1.1" />
<line x1="365.15" y1="542.62" x2="369.55" y2="542.62" stroke="#c4262e" stroke-width="1.1" />
<line x1="365.15" y1="524.62" x2="369.55" y2="524.62" stroke="#c4262e" stroke-width="1.1" />
<circle cx="367.35" cy="533.62" r="2.7" fill="#c4262e" stroke="none" stroke-width="0"/>
<line x1="395.15" y1="543.19" x2="395.15" y2="530.81" stroke="#c4262e" stroke-width="1.1" />
<line x1="392.95" y1="543.19" x2="397.35" y2="543.19" stroke="#c4262e" stroke-width="1.1" />
<line x1="392.95" y1="530.81" x2="397.35" y2="530.81" stroke="#c4262e" stroke-width="1.1" />
<circle cx="395.15" cy="537.00" r="2.7" fill="#c4262e" stroke="none" stroke-width="0"/>
<line x1="408.41" y1="551.06" x2="408.41" y2="544.31" stroke="#c4262e" stroke-width="1.1" />
<line x1="406.21" y1="551.06" x2="410.61" y2="551.06" stroke="#c4262e" stroke-width="1.1" />
<line x1="406.21" y1="544.31" x2="410.61" y2="544.31" stroke="#c4262e" stroke-width="1.1" />
<circle cx="408.41" cy="547.69" r="2.7" fill="#c4262e" stroke="none" stroke-width="0"/>
<line x1="422.95" y1="554.44" x2="422.95" y2="547.69" stroke="#c4262e" stroke-width="1.1" />
<line x1="420.75" y1="554.44" x2="425.15" y2="554.44" stroke="#c4262e" stroke-width="1.1" />
<line x1="420.75" y1="547.69" x2="425.15" y2="547.69" stroke="#c4262e" stroke-width="1.1" />
<circle cx="422.95" cy="551.06" r="2.7" fill="#c4262e" stroke="none" stroke-width="0"/>
<line x1="436.21" y1="566.25" x2="436.21" y2="558.38" stroke="#c4262e" stroke-width="1.1" />
<line x1="434.01" y1="566.25" x2="438.41" y2="566.25" stroke="#c4262e" stroke-width="1.1" />
<line x1="434.01" y1="558.38" x2="438.41" y2="558.38" stroke="#c4262e" stroke-width="1.1" />
<circle cx="436.21" cy="562.31" r="2.7" fill="#c4262e" stroke="none" stroke-width="0"/>
<line x1="450.75" y1="582.00" x2="450.75" y2="576.38" stroke="#c4262e" stroke-width="1.1" />
<line x1="448.55" y1="582.00" x2="452.95" y2="582.00" stroke="#c4262e" stroke-width="1.1" />
<line x1="448.55" y1="576.38" x2="452.95" y2="576.38" stroke="#c4262e" stroke-width="1.1" />
<circle cx="450.75" cy="579.19" r="2.7" fill="#c4262e" stroke="none" stroke-width="0"/>
<line x1="478.55" y1="600.56" x2="478.55" y2="598.31" stroke="#c4262e" stroke-width="1.1" />
<line x1="476.35" y1="600.56" x2="480.75" y2="600.56" stroke="#c4262e" stroke-width="1.1" />
<line x1="476.35" y1="598.31" x2="480.75" y2="598.31" stroke="#c4262e" stroke-width="1.1" />
<circle cx="478.55" cy="599.44" r="2.7" fill="#c4262e" stroke="none" stroke-width="0"/>
<polyline points="311.75,544.88 367.35,554.44 395.15,564.56 408.41,565.69 422.95,566.25 436.21,578.06 450.75,585.38 478.55,600.00" fill="none" stroke="#111" stroke-width="1.6"/>
<line x1="311.75" y1="550.50" x2="311.75" y2="539.25" stroke="#111" stroke-width="1.1" />
<line x1="309.55" y1="550.50" x2="313.95" y2="550.50" stroke="#111" stroke-width="1.1" />
<line x1="309.55" y1="539.25" x2="313.95" y2="539.25" stroke="#111" stroke-width="1.1" />
<circle cx="311.75" cy="544.88" r="2.7" fill="#111" stroke="none" stroke-width="0"/>
<line x1="367.35" y1="557.25" x2="367.35" y2="551.62" stroke="#111" stroke-width="1.1" />
<line x1="365.15" y1="557.25" x2="369.55" y2="557.25" stroke="#111" stroke-width="1.1" />
<line x1="365.15" y1="551.62" x2="369.55" y2="551.62" stroke="#111" stroke-width="1.1" />
<circle cx="367.35" cy="554.44" r="2.7" fill="#111" stroke="none" stroke-width="0"/>
<line x1="395.15" y1="568.50" x2="395.15" y2="560.62" stroke="#111" stroke-width="1.1" />
<line x1="392.95" y1="568.50" x2="397.35" y2="568.50" stroke="#111" stroke-width="1.1" />
<line x1="392.95" y1="560.62" x2="397.35" y2="560.62" stroke="#111" stroke-width="1.1" />
<circle cx="395.15" cy="564.56" r="2.7" fill="#111" stroke="none" stroke-width="0"/>
<line x1="408.41" y1="570.19" x2="408.41" y2="561.19" stroke="#111" stroke-width="1.1" />
<line x1="406.21" y1="570.19" x2="410.61" y2="570.19" stroke="#111" stroke-width="1.1" />
<line x1="406.21" y1="561.19" x2="410.61" y2="561.19" stroke="#111" stroke-width="1.1" />
<circle cx="408.41" cy="565.69" r="2.7" fill="#111" stroke="none" stroke-width="0"/>
<line x1="422.95" y1="569.62" x2="422.95" y2="562.88" stroke="#111" stroke-width="1.1" />
<line x1="420.75" y1="569.62" x2="425.15" y2="569.62" stroke="#111" stroke-width="1.1" />
<line x1="420.75" y1="562.88" x2="425.15" y2="562.88" stroke="#111" stroke-width="1.1" />
<circle cx="422.95" cy="566.25" r="2.7" fill="#111" stroke="none" stroke-width="0"/>
<line x1="436.21" y1="580.88" x2="436.21" y2="575.25" stroke="#111" stroke-width="1.1" />
<line x1="434.01" y1="580.88" x2="438.41" y2="580.88" stroke="#111" stroke-width="1.1" />
<line x1="434.01" y1="575.25" x2="438.41" y2="575.25" stroke="#111" stroke-width="1.1" />
<circle cx="436.21" cy="578.06" r="2.7" fill="#111" stroke="none" stroke-width="0"/>
<line x1="450.75" y1="588.75" x2="450.75" y2="582.00" stroke="#111" stroke-width="1.1" />
<line x1="448.55" y1="588.75" x2="452.95" y2="588.75" stroke="#111" stroke-width="1.1" />
<line x1="448.55" y1="582.00" x2="452.95" y2="582.00" stroke="#111" stroke-width="1.1" />
<circle cx="450.75" cy="585.38" r="2.7" fill="#111" stroke="none" stroke-width="0"/>
<line x1="478.55" y1="601.12" x2="478.55" y2="598.88" stroke="#111" stroke-width="1.1" />
<line x1="476.35" y1="601.12" x2="480.75" y2="601.12" stroke="#111" stroke-width="1.1" />
<line x1="476.35" y1="598.88" x2="480.75" y2="598.88" stroke="#111" stroke-width="1.1" />
<circle cx="478.55" cy="600.00" r="2.7" fill="#111" stroke="none" stroke-width="0"/>
<text x="367.35" y="518.38" font-size="7.2" text-anchor="middle" font-weight="normal" font-style="normal" fill="#111" >**</text>
<text x="395.15" y="522.88" font-size="7.2" text-anchor="middle" font-weight="normal" font-style="normal" fill="#111" >**</text>
<text x="408.41" y="531.58" font-size="7.2" text-anchor="middle" font-weight="normal" font-style="normal" fill="#111" >****</text>
<text x="422.95" y="540.08" font-size="7.2" text-anchor="middle" font-weight="normal" font-style="normal" fill="#111" >**</text>
<text x="436.21" y="551.58" font-size="7.2" text-anchor="middle" font-weight="normal" font-style="normal" fill="#111" >*</text>
<circle cx="425.20" cy="515.60" r="3.4" fill="#111" stroke="none" stroke-width="0"/>
<circle cx="425.20" cy="529.80" r="3.4" fill="#c4262e" stroke="none" stroke-width="0"/>
<text x="431.80" y="518.51" font-size="7.3" text-anchor="start" font-weight="normal" font-style="normal" fill="#111" >Ncdn<tspan font-size="4.5" font-style="italic" dx="0.6" dy="-2.2">fl/fl</tspan><tspan dy="2.2">; IC</tspan><tspan font-size="4.5" dy="1.8">50</tspan><tspan dy="-1.8" dx="0.5">= 15.3 &#181;M</tspan></text>
<text x="431.80" y="532.71" font-size="7.3" text-anchor="start" font-weight="normal" font-style="normal" fill="#111" >Ncdn<tspan font-size="4.5" font-style="italic" dx="0.8" dy="-2.2">&#916;mye</tspan><tspan dy="2.2">; IC</tspan><tspan font-size="4.5" dy="1.8">50</tspan><tspan dy="-1.8" dx="0.5">= 32.9 &#181;M</tspan></text>
<defs><clipPath id="blotclip"><rect x="38.0" y="42.0" width="205.0" height="30.0"/><rect x="38.0" y="77.8" width="205.0" height="29.5"/><rect x="334.0" y="41.8" width="124.0" height="30.299999999999997"/><rect x="334.0" y="77.3" width="124.0" height="30.0"/><rect x="39.0" y="355.8" width="122.80000000000001" height="33.0"/><rect x="39.0" y="393.8" width="122.80000000000001" height="32.69999999999999"/><rect x="334.7" y="356.1" width="123.19999999999999" height="32.89999999999998"/><rect x="334.7" y="393.8" width="123.19999999999999" height="32.80000000000001"/></clipPath></defs>
<rect x="0.5" y="0.5" width="519" height="677" fill="none" stroke="#000" stroke-width="1.2"/>
</svg></body></html>
